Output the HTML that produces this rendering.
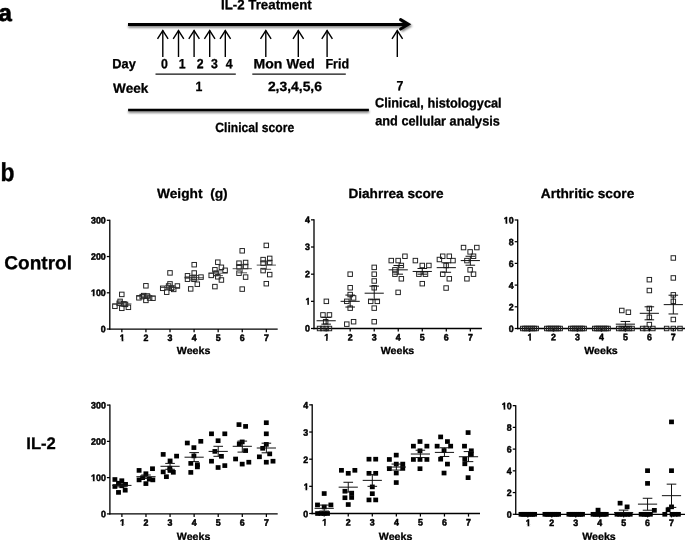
<!DOCTYPE html>
<html><head><meta charset="utf-8"><title>Figure</title>
<style>html,body{margin:0;padding:0;background:#fff;}body{width:685px;height:540px;overflow:hidden;}svg{display:block;}text{font-family:'Liberation Sans', sans-serif;text-rendering:geometricPrecision;}</style>
</head><body>
<svg width="685" height="540" viewBox="0 0 685 540" style="opacity:0.999">
<defs><filter id="blur" x="-5%" y="-200%" width="110%" height="500%"><feGaussianBlur stdDeviation="1.3"/></filter></defs>
<rect x="0" y="0" width="685" height="540" fill="#fff"/>
<text transform="rotate(0.06 -1.40 21.00)" x="-1.40" y="21.00" font-size="24.0" font-weight="bold" text-anchor="start" fill="#000" stroke="#000" stroke-width="0.7" stroke-linejoin="round" xml:space="preserve">a</text>
<text transform="rotate(0.06 0.60 181.00)" x="0.60" y="181.00" font-size="25.8" font-weight="bold" text-anchor="start" fill="#000" textLength="14.00" lengthAdjust="spacingAndGlyphs" stroke="#000" stroke-width="0.4" stroke-linejoin="round" xml:space="preserve">b</text>
<text transform="rotate(0.06 221.00 9.20)" x="221.00" y="9.20" font-size="13.6" font-weight="bold" text-anchor="start" fill="#000" textLength="90.80" lengthAdjust="spacingAndGlyphs" stroke="#000" stroke-width="0.3" stroke-linejoin="round" xml:space="preserve">IL-2 Treatment</text>
<g filter="url(#blur)" opacity="0.5">
<line x1="128.20" y1="26.30" x2="404.00" y2="26.30" stroke="#000" stroke-width="3.0" stroke-linecap="butt" />
<polyline points="401.5,21.4 409.5,26.0 401.5,30.6" fill="none" stroke="#000" stroke-width="3"/>
<line x1="128.30" y1="111.70" x2="369.20" y2="111.70" stroke="#000" stroke-width="2.4" stroke-linecap="butt" />
</g>
<line x1="128.00" y1="24.45" x2="407.00" y2="24.45" stroke="#000" stroke-width="3.1" stroke-linecap="butt" />
<polyline points="400.6,19.7 408.3,24.35 400.6,29.0" fill="none" stroke="#000" stroke-width="3.1" stroke-linejoin="miter" stroke-linecap="round"/>
<line x1="162.80" y1="30.60" x2="162.80" y2="57.00" stroke="#000" stroke-width="1.4" stroke-linecap="butt" />
<polyline points="157.50,38.8 162.80,30.5 168.10,38.8" fill="none" stroke="#000" stroke-width="1.4" stroke-linejoin="miter"/>
<line x1="178.50" y1="30.60" x2="178.50" y2="57.00" stroke="#000" stroke-width="1.4" stroke-linecap="butt" />
<polyline points="173.20,38.8 178.50,30.5 183.80,38.8" fill="none" stroke="#000" stroke-width="1.4" stroke-linejoin="miter"/>
<line x1="194.10" y1="30.60" x2="194.10" y2="57.00" stroke="#000" stroke-width="1.4" stroke-linecap="butt" />
<polyline points="188.80,38.8 194.10,30.5 199.40,38.8" fill="none" stroke="#000" stroke-width="1.4" stroke-linejoin="miter"/>
<line x1="209.70" y1="30.60" x2="209.70" y2="57.00" stroke="#000" stroke-width="1.4" stroke-linecap="butt" />
<polyline points="204.40,38.8 209.70,30.5 215.00,38.8" fill="none" stroke="#000" stroke-width="1.4" stroke-linejoin="miter"/>
<line x1="225.30" y1="30.60" x2="225.30" y2="57.00" stroke="#000" stroke-width="1.4" stroke-linecap="butt" />
<polyline points="220.00,38.8 225.30,30.5 230.60,38.8" fill="none" stroke="#000" stroke-width="1.4" stroke-linejoin="miter"/>
<line x1="265.80" y1="30.60" x2="265.80" y2="57.00" stroke="#000" stroke-width="1.4" stroke-linecap="butt" />
<polyline points="260.50,38.8 265.80,30.5 271.10,38.8" fill="none" stroke="#000" stroke-width="1.4" stroke-linejoin="miter"/>
<line x1="298.30" y1="30.60" x2="298.30" y2="57.00" stroke="#000" stroke-width="1.4" stroke-linecap="butt" />
<polyline points="293.00,38.8 298.30,30.5 303.60,38.8" fill="none" stroke="#000" stroke-width="1.4" stroke-linejoin="miter"/>
<line x1="327.10" y1="30.60" x2="327.10" y2="57.00" stroke="#000" stroke-width="1.4" stroke-linecap="butt" />
<polyline points="321.80,38.8 327.10,30.5 332.40,38.8" fill="none" stroke="#000" stroke-width="1.4" stroke-linejoin="miter"/>
<line x1="397.30" y1="30.60" x2="397.30" y2="57.00" stroke="#000" stroke-width="1.4" stroke-linecap="butt" />
<polyline points="392.00,38.8 397.30,30.5 402.60,38.8" fill="none" stroke="#000" stroke-width="1.4" stroke-linejoin="miter"/>
<text transform="rotate(0.06 112.35 68.30)" x="112.35" y="68.30" font-size="13.4" font-weight="bold" text-anchor="start" fill="#000" textLength="23.50" lengthAdjust="spacingAndGlyphs" stroke="#000" stroke-width="0.3" stroke-linejoin="round" xml:space="preserve">Day</text>
<text transform="rotate(0.06 164.30 68.25)" x="164.30" y="68.25" font-size="13.4" font-weight="bold" text-anchor="middle" fill="#000" textLength="6.85" lengthAdjust="spacingAndGlyphs" stroke="#000" stroke-width="0.3" stroke-linejoin="round" xml:space="preserve">0</text>
<text transform="rotate(0.06 182.10 68.25)" x="182.10" y="68.25" font-size="13.4" font-weight="bold" text-anchor="middle" fill="#000" textLength="6.85" lengthAdjust="spacingAndGlyphs" stroke="#000" stroke-width="0.3" stroke-linejoin="round" xml:space="preserve">1</text>
<text transform="rotate(0.06 200.10 68.25)" x="200.10" y="68.25" font-size="13.4" font-weight="bold" text-anchor="middle" fill="#000" textLength="6.85" lengthAdjust="spacingAndGlyphs" stroke="#000" stroke-width="0.3" stroke-linejoin="round" xml:space="preserve">2</text>
<text transform="rotate(0.06 214.50 68.25)" x="214.50" y="68.25" font-size="13.4" font-weight="bold" text-anchor="middle" fill="#000" textLength="6.85" lengthAdjust="spacingAndGlyphs" stroke="#000" stroke-width="0.3" stroke-linejoin="round" xml:space="preserve">3</text>
<text transform="rotate(0.06 229.20 68.25)" x="229.20" y="68.25" font-size="13.4" font-weight="bold" text-anchor="middle" fill="#000" textLength="6.85" lengthAdjust="spacingAndGlyphs" stroke="#000" stroke-width="0.3" stroke-linejoin="round" xml:space="preserve">4</text>
<text transform="rotate(0.06 253.55 68.25)" x="253.55" y="68.25" font-size="13.4" font-weight="bold" text-anchor="start" fill="#000" textLength="28.75" lengthAdjust="spacingAndGlyphs" stroke="#000" stroke-width="0.3" stroke-linejoin="round" xml:space="preserve">Mon</text>
<text transform="rotate(0.06 286.50 68.25)" x="286.50" y="68.25" font-size="13.4" font-weight="bold" text-anchor="start" fill="#000" textLength="28.30" lengthAdjust="spacingAndGlyphs" stroke="#000" stroke-width="0.3" stroke-linejoin="round" xml:space="preserve">Wed</text>
<text transform="rotate(0.06 325.45 68.25)" x="325.45" y="68.25" font-size="13.4" font-weight="bold" text-anchor="start" fill="#000" textLength="23.60" lengthAdjust="spacingAndGlyphs" stroke="#000" stroke-width="0.3" stroke-linejoin="round" xml:space="preserve">Frid</text>
<line x1="155.50" y1="74.10" x2="235.80" y2="74.10" stroke="#111" stroke-width="1.2" stroke-linecap="butt" />
<line x1="252.30" y1="74.10" x2="345.80" y2="74.10" stroke="#111" stroke-width="1.2" stroke-linecap="butt" />
<text transform="rotate(0.06 113.10 92.80)" x="113.10" y="92.80" font-size="13.4" font-weight="bold" text-anchor="start" fill="#000" textLength="35.15" lengthAdjust="spacingAndGlyphs" stroke="#000" stroke-width="0.3" stroke-linejoin="round" xml:space="preserve">Week</text>
<text transform="rotate(0.06 199.00 91.00)" x="199.00" y="91.00" font-size="13.4" font-weight="bold" text-anchor="middle" fill="#000" textLength="6.85" lengthAdjust="spacingAndGlyphs" stroke="#000" stroke-width="0.3" stroke-linejoin="round" xml:space="preserve">1</text>
<text transform="rotate(0.06 267.90 91.00)" x="267.90" y="91.00" font-size="13.4" font-weight="bold" text-anchor="start" fill="#000" textLength="54.05" lengthAdjust="spacingAndGlyphs" stroke="#000" stroke-width="0.3" stroke-linejoin="round" xml:space="preserve">2,3,4,5,6</text>
<text transform="rotate(0.06 399.90 90.35)" x="399.90" y="90.35" font-size="13.4" font-weight="bold" text-anchor="middle" fill="#000" textLength="6.85" lengthAdjust="spacingAndGlyphs" stroke="#000" stroke-width="0.3" stroke-linejoin="round" xml:space="preserve">7</text>
<line x1="128.10" y1="110.00" x2="368.90" y2="110.00" stroke="#000" stroke-width="2.6" stroke-linecap="butt" />
<text transform="rotate(0.06 215.30 132.00)" x="215.30" y="132.00" font-size="13.4" font-weight="bold" text-anchor="start" fill="#000" textLength="78.90" lengthAdjust="spacingAndGlyphs" stroke="#000" stroke-width="0.3" stroke-linejoin="round" xml:space="preserve">Clinical score</text>
<text transform="rotate(0.06 375.10 107.35)" x="375.10" y="107.35" font-size="13.4" font-weight="bold" text-anchor="start" fill="#000" textLength="126.50" lengthAdjust="spacingAndGlyphs" stroke="#000" stroke-width="0.3" stroke-linejoin="round" xml:space="preserve">Clinical, histologycal</text>
<text transform="rotate(0.06 375.25 125.35)" x="375.25" y="125.35" font-size="13.4" font-weight="bold" text-anchor="start" fill="#000" textLength="124.65" lengthAdjust="spacingAndGlyphs" stroke="#000" stroke-width="0.3" stroke-linejoin="round" xml:space="preserve">and cellular analysis</text>
<text transform="rotate(0.06 157.00 198.00)" x="157.00" y="198.00" font-size="13.4" font-weight="bold" text-anchor="start" fill="#000" textLength="70.70" lengthAdjust="spacingAndGlyphs" stroke="#000" stroke-width="0.3" stroke-linejoin="round" xml:space="preserve">Weight  (g)</text>
<text transform="rotate(0.06 348.45 198.00)" x="348.45" y="198.00" font-size="13.4" font-weight="bold" text-anchor="start" fill="#000" textLength="95.25" lengthAdjust="spacingAndGlyphs" stroke="#000" stroke-width="0.3" stroke-linejoin="round" xml:space="preserve">Diahrrea score</text>
<text transform="rotate(0.06 540.75 198.00)" x="540.75" y="198.00" font-size="13.4" font-weight="bold" text-anchor="start" fill="#000" textLength="93.50" lengthAdjust="spacingAndGlyphs" stroke="#000" stroke-width="0.3" stroke-linejoin="round" xml:space="preserve">Arthritic score</text>
<text transform="rotate(0.06 4.30 269.20)" x="4.30" y="269.20" font-size="18.95" font-weight="bold" text-anchor="start" fill="#000" textLength="67.70" lengthAdjust="spacingAndGlyphs" stroke="#000" stroke-width="0.3" stroke-linejoin="round" xml:space="preserve">Control</text>
<text transform="rotate(0.06 26.30 449.00)" x="26.30" y="449.00" font-size="16.8" font-weight="bold" text-anchor="start" fill="#000" textLength="29.55" lengthAdjust="spacingAndGlyphs" stroke="#000" stroke-width="0.3" stroke-linejoin="round" xml:space="preserve">IL-2</text>
<line x1="109.80" y1="219.80" x2="109.80" y2="329.71" stroke="#000" stroke-width="1.32" stroke-linecap="butt" />
<line x1="109.14" y1="329.05" x2="277.70" y2="329.05" stroke="#000" stroke-width="1.32" stroke-linecap="butt" />
<line x1="106.80" y1="329.05" x2="109.80" y2="329.05" stroke="#000" stroke-width="1.25" stroke-linecap="butt" />
<text transform="rotate(0.06 105.70 332.35)" x="105.70" y="332.35" font-size="9.3" font-weight="bold" text-anchor="end" fill="#000" textLength="4.90" lengthAdjust="spacingAndGlyphs" stroke="#000" stroke-width="0.5" stroke-linejoin="round" xml:space="preserve">0</text>
<line x1="106.80" y1="292.80" x2="109.80" y2="292.80" stroke="#000" stroke-width="1.25" stroke-linecap="butt" />
<text transform="rotate(0.06 105.70 296.10)" x="105.70" y="296.10" font-size="9.3" font-weight="bold" text-anchor="end" fill="#000" textLength="14.70" lengthAdjust="spacingAndGlyphs" stroke="#000" stroke-width="0.5" stroke-linejoin="round" xml:space="preserve">100</text>
<rect x="90.65" y="294.65" width="2.15" height="2.3" fill="#fff"/>
<rect x="94.50" y="294.65" width="2.0" height="2.3" fill="#fff"/>
<line x1="106.80" y1="256.55" x2="109.80" y2="256.55" stroke="#000" stroke-width="1.25" stroke-linecap="butt" />
<text transform="rotate(0.06 105.70 259.85)" x="105.70" y="259.85" font-size="9.3" font-weight="bold" text-anchor="end" fill="#000" textLength="14.70" lengthAdjust="spacingAndGlyphs" stroke="#000" stroke-width="0.5" stroke-linejoin="round" xml:space="preserve">200</text>
<line x1="106.80" y1="220.30" x2="109.80" y2="220.30" stroke="#000" stroke-width="1.25" stroke-linecap="butt" />
<text transform="rotate(0.06 105.70 223.60)" x="105.70" y="223.60" font-size="9.3" font-weight="bold" text-anchor="end" fill="#000" textLength="14.70" lengthAdjust="spacingAndGlyphs" stroke="#000" stroke-width="0.5" stroke-linejoin="round" xml:space="preserve">300</text>
<line x1="121.85" y1="329.05" x2="121.85" y2="332.15" stroke="#000" stroke-width="1.25" stroke-linecap="butt" />
<text transform="rotate(0.06 122.30 341.00)" x="122.30" y="341.00" font-size="9.3" font-weight="bold" text-anchor="middle" fill="#000" textLength="4.90" lengthAdjust="spacingAndGlyphs" stroke="#000" stroke-width="0.5" stroke-linejoin="round" xml:space="preserve">1</text>
<rect x="119.50" y="339.55" width="2.15" height="2.3" fill="#fff"/>
<rect x="123.35" y="339.55" width="2.0" height="2.3" fill="#fff"/>
<line x1="145.93" y1="329.05" x2="145.93" y2="332.15" stroke="#000" stroke-width="1.25" stroke-linecap="butt" />
<text transform="rotate(0.06 145.93 341.00)" x="145.93" y="341.00" font-size="9.3" font-weight="bold" text-anchor="middle" fill="#000" textLength="4.90" lengthAdjust="spacingAndGlyphs" stroke="#000" stroke-width="0.5" stroke-linejoin="round" xml:space="preserve">2</text>
<line x1="170.01" y1="329.05" x2="170.01" y2="332.15" stroke="#000" stroke-width="1.25" stroke-linecap="butt" />
<text transform="rotate(0.06 170.01 341.00)" x="170.01" y="341.00" font-size="9.3" font-weight="bold" text-anchor="middle" fill="#000" textLength="4.90" lengthAdjust="spacingAndGlyphs" stroke="#000" stroke-width="0.5" stroke-linejoin="round" xml:space="preserve">3</text>
<line x1="194.09" y1="329.05" x2="194.09" y2="332.15" stroke="#000" stroke-width="1.25" stroke-linecap="butt" />
<text transform="rotate(0.06 194.09 341.00)" x="194.09" y="341.00" font-size="9.3" font-weight="bold" text-anchor="middle" fill="#000" textLength="4.90" lengthAdjust="spacingAndGlyphs" stroke="#000" stroke-width="0.5" stroke-linejoin="round" xml:space="preserve">4</text>
<line x1="218.17" y1="329.05" x2="218.17" y2="332.15" stroke="#000" stroke-width="1.25" stroke-linecap="butt" />
<text transform="rotate(0.06 218.17 341.00)" x="218.17" y="341.00" font-size="9.3" font-weight="bold" text-anchor="middle" fill="#000" textLength="4.90" lengthAdjust="spacingAndGlyphs" stroke="#000" stroke-width="0.5" stroke-linejoin="round" xml:space="preserve">5</text>
<line x1="242.25" y1="329.05" x2="242.25" y2="332.15" stroke="#000" stroke-width="1.25" stroke-linecap="butt" />
<text transform="rotate(0.06 242.25 341.00)" x="242.25" y="341.00" font-size="9.3" font-weight="bold" text-anchor="middle" fill="#000" textLength="4.90" lengthAdjust="spacingAndGlyphs" stroke="#000" stroke-width="0.5" stroke-linejoin="round" xml:space="preserve">6</text>
<line x1="266.33" y1="329.05" x2="266.33" y2="332.15" stroke="#000" stroke-width="1.25" stroke-linecap="butt" />
<text transform="rotate(0.06 266.33 341.00)" x="266.33" y="341.00" font-size="9.3" font-weight="bold" text-anchor="middle" fill="#000" textLength="4.90" lengthAdjust="spacingAndGlyphs" stroke="#000" stroke-width="0.5" stroke-linejoin="round" xml:space="preserve">7</text>
<text transform="rotate(0.06 193.60 354.10)" x="193.60" y="354.10" font-size="10.3" font-weight="bold" text-anchor="middle" fill="#000" textLength="33.50" lengthAdjust="spacingAndGlyphs" stroke="#000" stroke-width="0.3" stroke-linejoin="round" xml:space="preserve">Weeks</text>
<rect x="119.56" y="292.16" width="4.48" height="4.48" fill="none" stroke="#202020" stroke-width="0.97"/>
<rect x="117.86" y="299.16" width="4.48" height="4.48" fill="none" stroke="#202020" stroke-width="0.97"/>
<rect x="116.96" y="301.06" width="4.48" height="4.48" fill="none" stroke="#202020" stroke-width="0.97"/>
<rect x="121.76" y="301.66" width="4.48" height="4.48" fill="none" stroke="#202020" stroke-width="0.97"/>
<rect x="123.26" y="302.16" width="4.48" height="4.48" fill="none" stroke="#202020" stroke-width="0.97"/>
<rect x="112.66" y="304.06" width="4.48" height="4.48" fill="none" stroke="#202020" stroke-width="0.97"/>
<rect x="119.56" y="306.06" width="4.48" height="4.48" fill="none" stroke="#202020" stroke-width="0.97"/>
<rect x="126.16" y="305.06" width="4.48" height="4.48" fill="none" stroke="#202020" stroke-width="0.97"/>
<line x1="112.25" y1="303.90" x2="131.45" y2="303.90" stroke="#333" stroke-width="0.85" stroke-linecap="butt" />
<line x1="117.05" y1="302.50" x2="126.65" y2="302.50" stroke="#333" stroke-width="0.85" stroke-linecap="butt" />
<line x1="117.05" y1="305.30" x2="126.65" y2="305.30" stroke="#333" stroke-width="0.85" stroke-linecap="butt" />
<line x1="121.85" y1="302.50" x2="121.85" y2="305.30" stroke="#333" stroke-width="0.85" stroke-linecap="butt" />
<rect x="143.66" y="283.56" width="4.48" height="4.48" fill="none" stroke="#202020" stroke-width="0.97"/>
<rect x="141.46" y="293.36" width="4.48" height="4.48" fill="none" stroke="#202020" stroke-width="0.97"/>
<rect x="145.16" y="293.76" width="4.48" height="4.48" fill="none" stroke="#202020" stroke-width="0.97"/>
<rect x="136.66" y="295.56" width="4.48" height="4.48" fill="none" stroke="#202020" stroke-width="0.97"/>
<rect x="147.36" y="295.76" width="4.48" height="4.48" fill="none" stroke="#202020" stroke-width="0.97"/>
<rect x="150.76" y="295.96" width="4.48" height="4.48" fill="none" stroke="#202020" stroke-width="0.97"/>
<rect x="143.66" y="298.16" width="4.48" height="4.48" fill="none" stroke="#202020" stroke-width="0.97"/>
<rect x="139.96" y="294.36" width="4.48" height="4.48" fill="none" stroke="#202020" stroke-width="0.97"/>
<line x1="136.33" y1="296.30" x2="155.53" y2="296.30" stroke="#333" stroke-width="0.85" stroke-linecap="butt" />
<line x1="141.13" y1="294.90" x2="150.73" y2="294.90" stroke="#333" stroke-width="0.85" stroke-linecap="butt" />
<line x1="141.13" y1="297.70" x2="150.73" y2="297.70" stroke="#333" stroke-width="0.85" stroke-linecap="butt" />
<line x1="145.93" y1="294.90" x2="145.93" y2="297.70" stroke="#333" stroke-width="0.85" stroke-linecap="butt" />
<rect x="167.76" y="270.66" width="4.48" height="4.48" fill="none" stroke="#202020" stroke-width="0.97"/>
<rect x="167.76" y="281.66" width="4.48" height="4.48" fill="none" stroke="#202020" stroke-width="0.97"/>
<rect x="166.36" y="283.76" width="4.48" height="4.48" fill="none" stroke="#202020" stroke-width="0.97"/>
<rect x="160.46" y="286.06" width="4.48" height="4.48" fill="none" stroke="#202020" stroke-width="0.97"/>
<rect x="169.26" y="286.06" width="4.48" height="4.48" fill="none" stroke="#202020" stroke-width="0.97"/>
<rect x="175.16" y="283.76" width="4.48" height="4.48" fill="none" stroke="#202020" stroke-width="0.97"/>
<rect x="171.46" y="287.16" width="4.48" height="4.48" fill="none" stroke="#202020" stroke-width="0.97"/>
<rect x="164.46" y="289.96" width="4.48" height="4.48" fill="none" stroke="#202020" stroke-width="0.97"/>
<line x1="160.41" y1="287.50" x2="179.61" y2="287.50" stroke="#333" stroke-width="0.85" stroke-linecap="butt" />
<line x1="165.21" y1="285.60" x2="174.81" y2="285.60" stroke="#333" stroke-width="0.85" stroke-linecap="butt" />
<line x1="165.21" y1="289.40" x2="174.81" y2="289.40" stroke="#333" stroke-width="0.85" stroke-linecap="butt" />
<line x1="170.01" y1="285.60" x2="170.01" y2="289.40" stroke="#333" stroke-width="0.85" stroke-linecap="butt" />
<rect x="191.96" y="262.46" width="4.48" height="4.48" fill="none" stroke="#202020" stroke-width="0.97"/>
<rect x="191.96" y="270.76" width="4.48" height="4.48" fill="none" stroke="#202020" stroke-width="0.97"/>
<rect x="185.26" y="273.56" width="4.48" height="4.48" fill="none" stroke="#202020" stroke-width="0.97"/>
<rect x="185.26" y="276.96" width="4.48" height="4.48" fill="none" stroke="#202020" stroke-width="0.97"/>
<rect x="191.96" y="275.26" width="4.48" height="4.48" fill="none" stroke="#202020" stroke-width="0.97"/>
<rect x="198.76" y="274.86" width="4.48" height="4.48" fill="none" stroke="#202020" stroke-width="0.97"/>
<rect x="191.76" y="277.06" width="4.48" height="4.48" fill="none" stroke="#202020" stroke-width="0.97"/>
<rect x="195.06" y="281.96" width="4.48" height="4.48" fill="none" stroke="#202020" stroke-width="0.97"/>
<rect x="188.46" y="286.66" width="4.48" height="4.48" fill="none" stroke="#202020" stroke-width="0.97"/>
<line x1="184.49" y1="277.70" x2="203.69" y2="277.70" stroke="#333" stroke-width="0.85" stroke-linecap="butt" />
<line x1="189.29" y1="275.50" x2="198.89" y2="275.50" stroke="#333" stroke-width="0.85" stroke-linecap="butt" />
<line x1="189.29" y1="279.90" x2="198.89" y2="279.90" stroke="#333" stroke-width="0.85" stroke-linecap="butt" />
<line x1="194.09" y1="275.50" x2="194.09" y2="279.90" stroke="#333" stroke-width="0.85" stroke-linecap="butt" />
<rect x="215.56" y="259.96" width="4.48" height="4.48" fill="none" stroke="#202020" stroke-width="0.97"/>
<rect x="219.16" y="265.06" width="4.48" height="4.48" fill="none" stroke="#202020" stroke-width="0.97"/>
<rect x="222.86" y="268.06" width="4.48" height="4.48" fill="none" stroke="#202020" stroke-width="0.97"/>
<rect x="212.66" y="267.56" width="4.48" height="4.48" fill="none" stroke="#202020" stroke-width="0.97"/>
<rect x="213.76" y="271.26" width="4.48" height="4.48" fill="none" stroke="#202020" stroke-width="0.97"/>
<rect x="208.96" y="273.16" width="4.48" height="4.48" fill="none" stroke="#202020" stroke-width="0.97"/>
<rect x="215.56" y="274.56" width="4.48" height="4.48" fill="none" stroke="#202020" stroke-width="0.97"/>
<rect x="219.16" y="277.76" width="4.48" height="4.48" fill="none" stroke="#202020" stroke-width="0.97"/>
<rect x="212.66" y="284.36" width="4.48" height="4.48" fill="none" stroke="#202020" stroke-width="0.97"/>
<line x1="208.57" y1="273.20" x2="227.77" y2="273.20" stroke="#333" stroke-width="0.85" stroke-linecap="butt" />
<line x1="213.37" y1="270.80" x2="222.97" y2="270.80" stroke="#333" stroke-width="0.85" stroke-linecap="butt" />
<line x1="213.37" y1="275.60" x2="222.97" y2="275.60" stroke="#333" stroke-width="0.85" stroke-linecap="butt" />
<line x1="218.17" y1="270.80" x2="218.17" y2="275.60" stroke="#333" stroke-width="0.85" stroke-linecap="butt" />
<rect x="239.96" y="248.56" width="4.48" height="4.48" fill="none" stroke="#202020" stroke-width="0.97"/>
<rect x="236.76" y="260.96" width="4.48" height="4.48" fill="none" stroke="#202020" stroke-width="0.97"/>
<rect x="243.36" y="260.26" width="4.48" height="4.48" fill="none" stroke="#202020" stroke-width="0.97"/>
<rect x="236.76" y="264.66" width="4.48" height="4.48" fill="none" stroke="#202020" stroke-width="0.97"/>
<rect x="243.36" y="264.26" width="4.48" height="4.48" fill="none" stroke="#202020" stroke-width="0.97"/>
<rect x="236.76" y="270.96" width="4.48" height="4.48" fill="none" stroke="#202020" stroke-width="0.97"/>
<rect x="243.36" y="274.86" width="4.48" height="4.48" fill="none" stroke="#202020" stroke-width="0.97"/>
<rect x="239.96" y="286.86" width="4.48" height="4.48" fill="none" stroke="#202020" stroke-width="0.97"/>
<line x1="232.65" y1="268.70" x2="251.85" y2="268.70" stroke="#333" stroke-width="0.85" stroke-linecap="butt" />
<line x1="237.45" y1="264.60" x2="247.05" y2="264.60" stroke="#333" stroke-width="0.85" stroke-linecap="butt" />
<line x1="237.45" y1="272.80" x2="247.05" y2="272.80" stroke="#333" stroke-width="0.85" stroke-linecap="butt" />
<line x1="242.25" y1="264.60" x2="242.25" y2="272.80" stroke="#333" stroke-width="0.85" stroke-linecap="butt" />
<rect x="264.06" y="243.16" width="4.48" height="4.48" fill="none" stroke="#202020" stroke-width="0.97"/>
<rect x="267.46" y="256.16" width="4.48" height="4.48" fill="none" stroke="#202020" stroke-width="0.97"/>
<rect x="260.86" y="257.36" width="4.48" height="4.48" fill="none" stroke="#202020" stroke-width="0.97"/>
<rect x="260.86" y="260.96" width="4.48" height="4.48" fill="none" stroke="#202020" stroke-width="0.97"/>
<rect x="267.46" y="260.26" width="4.48" height="4.48" fill="none" stroke="#202020" stroke-width="0.97"/>
<rect x="260.86" y="268.36" width="4.48" height="4.48" fill="none" stroke="#202020" stroke-width="0.97"/>
<rect x="267.46" y="272.36" width="4.48" height="4.48" fill="none" stroke="#202020" stroke-width="0.97"/>
<rect x="264.06" y="281.46" width="4.48" height="4.48" fill="none" stroke="#202020" stroke-width="0.97"/>
<line x1="256.73" y1="265.10" x2="275.93" y2="265.10" stroke="#333" stroke-width="0.85" stroke-linecap="butt" />
<line x1="261.53" y1="261.00" x2="271.13" y2="261.00" stroke="#333" stroke-width="0.85" stroke-linecap="butt" />
<line x1="261.53" y1="269.30" x2="271.13" y2="269.30" stroke="#333" stroke-width="0.85" stroke-linecap="butt" />
<line x1="266.33" y1="261.00" x2="266.33" y2="269.30" stroke="#333" stroke-width="0.85" stroke-linecap="butt" />
<line x1="314.00" y1="219.35" x2="314.00" y2="329.16" stroke="#000" stroke-width="1.32" stroke-linecap="butt" />
<line x1="313.34" y1="328.50" x2="481.90" y2="328.50" stroke="#000" stroke-width="1.32" stroke-linecap="butt" />
<line x1="311.00" y1="328.50" x2="314.00" y2="328.50" stroke="#000" stroke-width="1.25" stroke-linecap="butt" />
<text transform="rotate(0.06 309.90 331.63)" x="309.90" y="331.63" font-size="9.3" font-weight="bold" text-anchor="end" fill="#000" textLength="4.90" lengthAdjust="spacingAndGlyphs" stroke="#000" stroke-width="0.5" stroke-linejoin="round" xml:space="preserve">0</text>
<line x1="311.00" y1="301.34" x2="314.00" y2="301.34" stroke="#000" stroke-width="1.25" stroke-linecap="butt" />
<text transform="rotate(0.06 310.40 304.47)" x="310.40" y="304.47" font-size="9.3" font-weight="bold" text-anchor="end" fill="#000" textLength="4.90" lengthAdjust="spacingAndGlyphs" stroke="#000" stroke-width="0.5" stroke-linejoin="round" xml:space="preserve">1</text>
<rect x="305.15" y="303.02" width="2.15" height="2.3" fill="#fff"/>
<rect x="309.00" y="303.02" width="2.0" height="2.3" fill="#fff"/>
<line x1="311.00" y1="274.18" x2="314.00" y2="274.18" stroke="#000" stroke-width="1.25" stroke-linecap="butt" />
<text transform="rotate(0.06 309.90 277.31)" x="309.90" y="277.31" font-size="9.3" font-weight="bold" text-anchor="end" fill="#000" textLength="4.90" lengthAdjust="spacingAndGlyphs" stroke="#000" stroke-width="0.5" stroke-linejoin="round" xml:space="preserve">2</text>
<line x1="311.00" y1="247.01" x2="314.00" y2="247.01" stroke="#000" stroke-width="1.25" stroke-linecap="butt" />
<text transform="rotate(0.06 309.90 250.14)" x="309.90" y="250.14" font-size="9.3" font-weight="bold" text-anchor="end" fill="#000" textLength="4.90" lengthAdjust="spacingAndGlyphs" stroke="#000" stroke-width="0.5" stroke-linejoin="round" xml:space="preserve">3</text>
<line x1="311.00" y1="219.85" x2="314.00" y2="219.85" stroke="#000" stroke-width="1.25" stroke-linecap="butt" />
<text transform="rotate(0.06 309.90 222.98)" x="309.90" y="222.98" font-size="9.3" font-weight="bold" text-anchor="end" fill="#000" textLength="4.90" lengthAdjust="spacingAndGlyphs" stroke="#000" stroke-width="0.5" stroke-linejoin="round" xml:space="preserve">4</text>
<line x1="326.15" y1="328.50" x2="326.15" y2="331.60" stroke="#000" stroke-width="1.25" stroke-linecap="butt" />
<text transform="rotate(0.06 326.60 340.40)" x="326.60" y="340.40" font-size="9.3" font-weight="bold" text-anchor="middle" fill="#000" textLength="4.90" lengthAdjust="spacingAndGlyphs" stroke="#000" stroke-width="0.5" stroke-linejoin="round" xml:space="preserve">1</text>
<rect x="323.80" y="338.95" width="2.15" height="2.3" fill="#fff"/>
<rect x="327.65" y="338.95" width="2.0" height="2.3" fill="#fff"/>
<line x1="350.18" y1="328.50" x2="350.18" y2="331.60" stroke="#000" stroke-width="1.25" stroke-linecap="butt" />
<text transform="rotate(0.06 350.18 340.40)" x="350.18" y="340.40" font-size="9.3" font-weight="bold" text-anchor="middle" fill="#000" textLength="4.90" lengthAdjust="spacingAndGlyphs" stroke="#000" stroke-width="0.5" stroke-linejoin="round" xml:space="preserve">2</text>
<line x1="374.21" y1="328.50" x2="374.21" y2="331.60" stroke="#000" stroke-width="1.25" stroke-linecap="butt" />
<text transform="rotate(0.06 374.21 340.40)" x="374.21" y="340.40" font-size="9.3" font-weight="bold" text-anchor="middle" fill="#000" textLength="4.90" lengthAdjust="spacingAndGlyphs" stroke="#000" stroke-width="0.5" stroke-linejoin="round" xml:space="preserve">3</text>
<line x1="398.24" y1="328.50" x2="398.24" y2="331.60" stroke="#000" stroke-width="1.25" stroke-linecap="butt" />
<text transform="rotate(0.06 398.24 340.40)" x="398.24" y="340.40" font-size="9.3" font-weight="bold" text-anchor="middle" fill="#000" textLength="4.90" lengthAdjust="spacingAndGlyphs" stroke="#000" stroke-width="0.5" stroke-linejoin="round" xml:space="preserve">4</text>
<line x1="422.27" y1="328.50" x2="422.27" y2="331.60" stroke="#000" stroke-width="1.25" stroke-linecap="butt" />
<text transform="rotate(0.06 422.27 340.40)" x="422.27" y="340.40" font-size="9.3" font-weight="bold" text-anchor="middle" fill="#000" textLength="4.90" lengthAdjust="spacingAndGlyphs" stroke="#000" stroke-width="0.5" stroke-linejoin="round" xml:space="preserve">5</text>
<line x1="446.30" y1="328.50" x2="446.30" y2="331.60" stroke="#000" stroke-width="1.25" stroke-linecap="butt" />
<text transform="rotate(0.06 446.30 340.40)" x="446.30" y="340.40" font-size="9.3" font-weight="bold" text-anchor="middle" fill="#000" textLength="4.90" lengthAdjust="spacingAndGlyphs" stroke="#000" stroke-width="0.5" stroke-linejoin="round" xml:space="preserve">6</text>
<line x1="470.33" y1="328.50" x2="470.33" y2="331.60" stroke="#000" stroke-width="1.25" stroke-linecap="butt" />
<text transform="rotate(0.06 470.33 340.40)" x="470.33" y="340.40" font-size="9.3" font-weight="bold" text-anchor="middle" fill="#000" textLength="4.90" lengthAdjust="spacingAndGlyphs" stroke="#000" stroke-width="0.5" stroke-linejoin="round" xml:space="preserve">7</text>
<text transform="rotate(0.06 397.50 354.10)" x="397.50" y="354.10" font-size="10.3" font-weight="bold" text-anchor="middle" fill="#000" textLength="33.50" lengthAdjust="spacingAndGlyphs" stroke="#000" stroke-width="0.3" stroke-linejoin="round" xml:space="preserve">Weeks</text>
<rect x="324.11" y="299.10" width="4.48" height="4.48" fill="none" stroke="#202020" stroke-width="0.97"/>
<rect x="320.71" y="312.68" width="4.48" height="4.48" fill="none" stroke="#202020" stroke-width="0.97"/>
<rect x="327.21" y="312.68" width="4.48" height="4.48" fill="none" stroke="#202020" stroke-width="0.97"/>
<rect x="323.41" y="319.47" width="4.48" height="4.48" fill="none" stroke="#202020" stroke-width="0.97"/>
<rect x="317.31" y="326.26" width="4.48" height="4.48" fill="none" stroke="#202020" stroke-width="0.97"/>
<rect x="320.61" y="326.26" width="4.48" height="4.48" fill="none" stroke="#202020" stroke-width="0.97"/>
<rect x="323.91" y="326.26" width="4.48" height="4.48" fill="none" stroke="#202020" stroke-width="0.97"/>
<rect x="327.21" y="326.26" width="4.48" height="4.48" fill="none" stroke="#202020" stroke-width="0.97"/>
<line x1="316.55" y1="320.76" x2="335.75" y2="320.76" stroke="#111" stroke-width="1.0" stroke-linecap="butt" />
<line x1="321.35" y1="317.36" x2="330.95" y2="317.36" stroke="#111" stroke-width="1.0" stroke-linecap="butt" />
<line x1="321.35" y1="324.15" x2="330.95" y2="324.15" stroke="#111" stroke-width="1.0" stroke-linecap="butt" />
<line x1="326.15" y1="317.36" x2="326.15" y2="324.15" stroke="#111" stroke-width="1.0" stroke-linecap="butt" />
<rect x="347.94" y="271.94" width="4.48" height="4.48" fill="none" stroke="#202020" stroke-width="0.97"/>
<rect x="347.94" y="285.52" width="4.48" height="4.48" fill="none" stroke="#202020" stroke-width="0.97"/>
<rect x="347.94" y="292.31" width="4.48" height="4.48" fill="none" stroke="#202020" stroke-width="0.97"/>
<rect x="351.34" y="295.70" width="4.48" height="4.48" fill="none" stroke="#202020" stroke-width="0.97"/>
<rect x="344.54" y="299.10" width="4.48" height="4.48" fill="none" stroke="#202020" stroke-width="0.97"/>
<rect x="347.94" y="305.89" width="4.48" height="4.48" fill="none" stroke="#202020" stroke-width="0.97"/>
<rect x="351.34" y="319.47" width="4.48" height="4.48" fill="none" stroke="#202020" stroke-width="0.97"/>
<rect x="344.54" y="321.91" width="4.48" height="4.48" fill="none" stroke="#202020" stroke-width="0.97"/>
<line x1="340.58" y1="301.34" x2="359.78" y2="301.34" stroke="#111" stroke-width="1.0" stroke-linecap="butt" />
<line x1="345.38" y1="295.09" x2="354.98" y2="295.09" stroke="#111" stroke-width="1.0" stroke-linecap="butt" />
<line x1="345.38" y1="307.04" x2="354.98" y2="307.04" stroke="#111" stroke-width="1.0" stroke-linecap="butt" />
<line x1="350.18" y1="295.09" x2="350.18" y2="307.04" stroke="#111" stroke-width="1.0" stroke-linecap="butt" />
<rect x="371.97" y="265.14" width="4.48" height="4.48" fill="none" stroke="#202020" stroke-width="0.97"/>
<rect x="371.97" y="271.94" width="4.48" height="4.48" fill="none" stroke="#202020" stroke-width="0.97"/>
<rect x="371.97" y="278.73" width="4.48" height="4.48" fill="none" stroke="#202020" stroke-width="0.97"/>
<rect x="371.97" y="285.52" width="4.48" height="4.48" fill="none" stroke="#202020" stroke-width="0.97"/>
<rect x="368.47" y="299.10" width="4.48" height="4.48" fill="none" stroke="#202020" stroke-width="0.97"/>
<rect x="375.07" y="299.10" width="4.48" height="4.48" fill="none" stroke="#202020" stroke-width="0.97"/>
<rect x="371.97" y="305.89" width="4.48" height="4.48" fill="none" stroke="#202020" stroke-width="0.97"/>
<rect x="371.97" y="319.47" width="4.48" height="4.48" fill="none" stroke="#202020" stroke-width="0.97"/>
<line x1="364.61" y1="293.19" x2="383.81" y2="293.19" stroke="#111" stroke-width="1.0" stroke-linecap="butt" />
<line x1="369.41" y1="286.13" x2="379.01" y2="286.13" stroke="#111" stroke-width="1.0" stroke-linecap="butt" />
<line x1="369.41" y1="299.71" x2="379.01" y2="299.71" stroke="#111" stroke-width="1.0" stroke-linecap="butt" />
<line x1="374.21" y1="286.13" x2="374.21" y2="299.71" stroke="#111" stroke-width="1.0" stroke-linecap="butt" />
<rect x="389.00" y="258.35" width="4.48" height="4.48" fill="none" stroke="#202020" stroke-width="0.97"/>
<rect x="395.90" y="258.35" width="4.48" height="4.48" fill="none" stroke="#202020" stroke-width="0.97"/>
<rect x="402.70" y="254.01" width="4.48" height="4.48" fill="none" stroke="#202020" stroke-width="0.97"/>
<rect x="399.10" y="263.24" width="4.48" height="4.48" fill="none" stroke="#202020" stroke-width="0.97"/>
<rect x="392.70" y="267.59" width="4.48" height="4.48" fill="none" stroke="#202020" stroke-width="0.97"/>
<rect x="392.70" y="271.94" width="4.48" height="4.48" fill="none" stroke="#202020" stroke-width="0.97"/>
<rect x="399.10" y="276.55" width="4.48" height="4.48" fill="none" stroke="#202020" stroke-width="0.97"/>
<rect x="395.90" y="290.13" width="4.48" height="4.48" fill="none" stroke="#202020" stroke-width="0.97"/>
<line x1="388.64" y1="269.83" x2="407.84" y2="269.83" stroke="#111" stroke-width="1.0" stroke-linecap="butt" />
<line x1="393.44" y1="265.48" x2="403.04" y2="265.48" stroke="#111" stroke-width="1.0" stroke-linecap="butt" />
<line x1="393.44" y1="274.18" x2="403.04" y2="274.18" stroke="#111" stroke-width="1.0" stroke-linecap="butt" />
<line x1="398.24" y1="265.48" x2="398.24" y2="274.18" stroke="#111" stroke-width="1.0" stroke-linecap="butt" />
<rect x="413.13" y="258.35" width="4.48" height="4.48" fill="none" stroke="#202020" stroke-width="0.97"/>
<rect x="420.03" y="263.24" width="4.48" height="4.48" fill="none" stroke="#202020" stroke-width="0.97"/>
<rect x="426.63" y="263.24" width="4.48" height="4.48" fill="none" stroke="#202020" stroke-width="0.97"/>
<rect x="416.63" y="271.94" width="4.48" height="4.48" fill="none" stroke="#202020" stroke-width="0.97"/>
<rect x="423.23" y="271.94" width="4.48" height="4.48" fill="none" stroke="#202020" stroke-width="0.97"/>
<rect x="420.03" y="281.44" width="4.48" height="4.48" fill="none" stroke="#202020" stroke-width="0.97"/>
<line x1="412.67" y1="271.46" x2="431.87" y2="271.46" stroke="#111" stroke-width="1.0" stroke-linecap="butt" />
<line x1="417.47" y1="268.47" x2="427.07" y2="268.47" stroke="#111" stroke-width="1.0" stroke-linecap="butt" />
<line x1="417.47" y1="274.18" x2="427.07" y2="274.18" stroke="#111" stroke-width="1.0" stroke-linecap="butt" />
<line x1="422.27" y1="268.47" x2="422.27" y2="274.18" stroke="#111" stroke-width="1.0" stroke-linecap="butt" />
<rect x="440.46" y="254.01" width="4.48" height="4.48" fill="none" stroke="#202020" stroke-width="0.97"/>
<rect x="447.06" y="254.01" width="4.48" height="4.48" fill="none" stroke="#202020" stroke-width="0.97"/>
<rect x="437.16" y="257.27" width="4.48" height="4.48" fill="none" stroke="#202020" stroke-width="0.97"/>
<rect x="450.76" y="258.35" width="4.48" height="4.48" fill="none" stroke="#202020" stroke-width="0.97"/>
<rect x="443.86" y="263.24" width="4.48" height="4.48" fill="none" stroke="#202020" stroke-width="0.97"/>
<rect x="440.46" y="271.94" width="4.48" height="4.48" fill="none" stroke="#202020" stroke-width="0.97"/>
<rect x="447.06" y="276.55" width="4.48" height="4.48" fill="none" stroke="#202020" stroke-width="0.97"/>
<rect x="443.86" y="285.79" width="4.48" height="4.48" fill="none" stroke="#202020" stroke-width="0.97"/>
<line x1="436.70" y1="267.66" x2="455.90" y2="267.66" stroke="#111" stroke-width="1.0" stroke-linecap="butt" />
<line x1="441.50" y1="262.77" x2="451.10" y2="262.77" stroke="#111" stroke-width="1.0" stroke-linecap="butt" />
<line x1="441.50" y1="272.27" x2="451.10" y2="272.27" stroke="#111" stroke-width="1.0" stroke-linecap="butt" />
<line x1="446.30" y1="262.77" x2="446.30" y2="272.27" stroke="#111" stroke-width="1.0" stroke-linecap="butt" />
<rect x="461.29" y="245.32" width="4.48" height="4.48" fill="none" stroke="#202020" stroke-width="0.97"/>
<rect x="474.59" y="245.32" width="4.48" height="4.48" fill="none" stroke="#202020" stroke-width="0.97"/>
<rect x="467.89" y="249.66" width="4.48" height="4.48" fill="none" stroke="#202020" stroke-width="0.97"/>
<rect x="471.29" y="254.01" width="4.48" height="4.48" fill="none" stroke="#202020" stroke-width="0.97"/>
<rect x="464.69" y="258.35" width="4.48" height="4.48" fill="none" stroke="#202020" stroke-width="0.97"/>
<rect x="467.89" y="267.59" width="4.48" height="4.48" fill="none" stroke="#202020" stroke-width="0.97"/>
<rect x="471.29" y="271.94" width="4.48" height="4.48" fill="none" stroke="#202020" stroke-width="0.97"/>
<rect x="464.69" y="276.55" width="4.48" height="4.48" fill="none" stroke="#202020" stroke-width="0.97"/>
<line x1="460.73" y1="260.59" x2="479.93" y2="260.59" stroke="#111" stroke-width="1.0" stroke-linecap="butt" />
<line x1="465.53" y1="256.25" x2="475.13" y2="256.25" stroke="#111" stroke-width="1.0" stroke-linecap="butt" />
<line x1="465.53" y1="265.21" x2="475.13" y2="265.21" stroke="#111" stroke-width="1.0" stroke-linecap="butt" />
<line x1="470.33" y1="256.25" x2="470.33" y2="265.21" stroke="#111" stroke-width="1.0" stroke-linecap="butt" />
<line x1="517.70" y1="219.50" x2="517.70" y2="329.16" stroke="#000" stroke-width="1.32" stroke-linecap="butt" />
<line x1="517.04" y1="328.50" x2="686.00" y2="328.50" stroke="#000" stroke-width="1.32" stroke-linecap="butt" />
<line x1="514.70" y1="328.50" x2="517.70" y2="328.50" stroke="#000" stroke-width="1.25" stroke-linecap="butt" />
<text transform="rotate(0.06 513.60 332.05)" x="513.60" y="332.05" font-size="9.3" font-weight="bold" text-anchor="end" fill="#000" textLength="4.90" lengthAdjust="spacingAndGlyphs" stroke="#000" stroke-width="0.5" stroke-linejoin="round" xml:space="preserve">0</text>
<line x1="514.70" y1="306.80" x2="517.70" y2="306.80" stroke="#000" stroke-width="1.25" stroke-linecap="butt" />
<text transform="rotate(0.06 513.60 310.35)" x="513.60" y="310.35" font-size="9.3" font-weight="bold" text-anchor="end" fill="#000" textLength="4.90" lengthAdjust="spacingAndGlyphs" stroke="#000" stroke-width="0.5" stroke-linejoin="round" xml:space="preserve">2</text>
<line x1="514.70" y1="285.10" x2="517.70" y2="285.10" stroke="#000" stroke-width="1.25" stroke-linecap="butt" />
<text transform="rotate(0.06 513.60 288.65)" x="513.60" y="288.65" font-size="9.3" font-weight="bold" text-anchor="end" fill="#000" textLength="4.90" lengthAdjust="spacingAndGlyphs" stroke="#000" stroke-width="0.5" stroke-linejoin="round" xml:space="preserve">4</text>
<line x1="514.70" y1="263.40" x2="517.70" y2="263.40" stroke="#000" stroke-width="1.25" stroke-linecap="butt" />
<text transform="rotate(0.06 513.60 266.95)" x="513.60" y="266.95" font-size="9.3" font-weight="bold" text-anchor="end" fill="#000" textLength="4.90" lengthAdjust="spacingAndGlyphs" stroke="#000" stroke-width="0.5" stroke-linejoin="round" xml:space="preserve">6</text>
<line x1="514.70" y1="241.70" x2="517.70" y2="241.70" stroke="#000" stroke-width="1.25" stroke-linecap="butt" />
<text transform="rotate(0.06 513.60 245.25)" x="513.60" y="245.25" font-size="9.3" font-weight="bold" text-anchor="end" fill="#000" textLength="4.90" lengthAdjust="spacingAndGlyphs" stroke="#000" stroke-width="0.5" stroke-linejoin="round" xml:space="preserve">8</text>
<line x1="514.70" y1="220.00" x2="517.70" y2="220.00" stroke="#000" stroke-width="1.25" stroke-linecap="butt" />
<text transform="rotate(0.06 513.60 223.55)" x="513.60" y="223.55" font-size="9.3" font-weight="bold" text-anchor="end" fill="#000" textLength="9.80" lengthAdjust="spacingAndGlyphs" stroke="#000" stroke-width="0.5" stroke-linejoin="round" xml:space="preserve">10</text>
<rect x="503.45" y="222.10" width="2.15" height="2.3" fill="#fff"/>
<rect x="507.30" y="222.10" width="2.0" height="2.3" fill="#fff"/>
<line x1="529.50" y1="328.50" x2="529.50" y2="331.60" stroke="#000" stroke-width="1.25" stroke-linecap="butt" />
<text transform="rotate(0.06 529.95 340.30)" x="529.95" y="340.30" font-size="9.3" font-weight="bold" text-anchor="middle" fill="#000" textLength="4.90" lengthAdjust="spacingAndGlyphs" stroke="#000" stroke-width="0.5" stroke-linejoin="round" xml:space="preserve">1</text>
<rect x="527.15" y="338.85" width="2.15" height="2.3" fill="#fff"/>
<rect x="531.00" y="338.85" width="2.0" height="2.3" fill="#fff"/>
<line x1="553.47" y1="328.50" x2="553.47" y2="331.60" stroke="#000" stroke-width="1.25" stroke-linecap="butt" />
<text transform="rotate(0.06 553.47 340.30)" x="553.47" y="340.30" font-size="9.3" font-weight="bold" text-anchor="middle" fill="#000" textLength="4.90" lengthAdjust="spacingAndGlyphs" stroke="#000" stroke-width="0.5" stroke-linejoin="round" xml:space="preserve">2</text>
<line x1="577.44" y1="328.50" x2="577.44" y2="331.60" stroke="#000" stroke-width="1.25" stroke-linecap="butt" />
<text transform="rotate(0.06 577.44 340.30)" x="577.44" y="340.30" font-size="9.3" font-weight="bold" text-anchor="middle" fill="#000" textLength="4.90" lengthAdjust="spacingAndGlyphs" stroke="#000" stroke-width="0.5" stroke-linejoin="round" xml:space="preserve">3</text>
<line x1="601.41" y1="328.50" x2="601.41" y2="331.60" stroke="#000" stroke-width="1.25" stroke-linecap="butt" />
<text transform="rotate(0.06 601.41 340.30)" x="601.41" y="340.30" font-size="9.3" font-weight="bold" text-anchor="middle" fill="#000" textLength="4.90" lengthAdjust="spacingAndGlyphs" stroke="#000" stroke-width="0.5" stroke-linejoin="round" xml:space="preserve">4</text>
<line x1="625.38" y1="328.50" x2="625.38" y2="331.60" stroke="#000" stroke-width="1.25" stroke-linecap="butt" />
<text transform="rotate(0.06 625.38 340.30)" x="625.38" y="340.30" font-size="9.3" font-weight="bold" text-anchor="middle" fill="#000" textLength="4.90" lengthAdjust="spacingAndGlyphs" stroke="#000" stroke-width="0.5" stroke-linejoin="round" xml:space="preserve">5</text>
<line x1="649.35" y1="328.50" x2="649.35" y2="331.60" stroke="#000" stroke-width="1.25" stroke-linecap="butt" />
<text transform="rotate(0.06 649.35 340.30)" x="649.35" y="340.30" font-size="9.3" font-weight="bold" text-anchor="middle" fill="#000" textLength="4.90" lengthAdjust="spacingAndGlyphs" stroke="#000" stroke-width="0.5" stroke-linejoin="round" xml:space="preserve">6</text>
<line x1="673.32" y1="328.50" x2="673.32" y2="331.60" stroke="#000" stroke-width="1.25" stroke-linecap="butt" />
<text transform="rotate(0.06 673.32 340.30)" x="673.32" y="340.30" font-size="9.3" font-weight="bold" text-anchor="middle" fill="#000" textLength="4.90" lengthAdjust="spacingAndGlyphs" stroke="#000" stroke-width="0.5" stroke-linejoin="round" xml:space="preserve">7</text>
<text transform="rotate(0.06 601.00 354.10)" x="601.00" y="354.10" font-size="10.3" font-weight="bold" text-anchor="middle" fill="#000" textLength="33.50" lengthAdjust="spacingAndGlyphs" stroke="#000" stroke-width="0.3" stroke-linejoin="round" xml:space="preserve">Weeks</text>
<rect x="520.56" y="326.26" width="4.48" height="4.48" fill="none" stroke="#202020" stroke-width="0.97"/>
<rect x="522.47" y="326.26" width="4.48" height="4.48" fill="none" stroke="#202020" stroke-width="0.97"/>
<rect x="524.39" y="326.26" width="4.48" height="4.48" fill="none" stroke="#202020" stroke-width="0.97"/>
<rect x="526.30" y="326.26" width="4.48" height="4.48" fill="none" stroke="#202020" stroke-width="0.97"/>
<rect x="528.22" y="326.26" width="4.48" height="4.48" fill="none" stroke="#202020" stroke-width="0.97"/>
<rect x="530.13" y="326.26" width="4.48" height="4.48" fill="none" stroke="#202020" stroke-width="0.97"/>
<rect x="532.05" y="326.26" width="4.48" height="4.48" fill="none" stroke="#202020" stroke-width="0.97"/>
<rect x="533.96" y="326.26" width="4.48" height="4.48" fill="none" stroke="#202020" stroke-width="0.97"/>
<rect x="544.53" y="326.26" width="4.48" height="4.48" fill="none" stroke="#202020" stroke-width="0.97"/>
<rect x="546.44" y="326.26" width="4.48" height="4.48" fill="none" stroke="#202020" stroke-width="0.97"/>
<rect x="548.36" y="326.26" width="4.48" height="4.48" fill="none" stroke="#202020" stroke-width="0.97"/>
<rect x="550.27" y="326.26" width="4.48" height="4.48" fill="none" stroke="#202020" stroke-width="0.97"/>
<rect x="552.19" y="326.26" width="4.48" height="4.48" fill="none" stroke="#202020" stroke-width="0.97"/>
<rect x="554.10" y="326.26" width="4.48" height="4.48" fill="none" stroke="#202020" stroke-width="0.97"/>
<rect x="556.02" y="326.26" width="4.48" height="4.48" fill="none" stroke="#202020" stroke-width="0.97"/>
<rect x="557.93" y="326.26" width="4.48" height="4.48" fill="none" stroke="#202020" stroke-width="0.97"/>
<rect x="568.50" y="326.26" width="4.48" height="4.48" fill="none" stroke="#202020" stroke-width="0.97"/>
<rect x="570.41" y="326.26" width="4.48" height="4.48" fill="none" stroke="#202020" stroke-width="0.97"/>
<rect x="572.33" y="326.26" width="4.48" height="4.48" fill="none" stroke="#202020" stroke-width="0.97"/>
<rect x="574.24" y="326.26" width="4.48" height="4.48" fill="none" stroke="#202020" stroke-width="0.97"/>
<rect x="576.16" y="326.26" width="4.48" height="4.48" fill="none" stroke="#202020" stroke-width="0.97"/>
<rect x="578.07" y="326.26" width="4.48" height="4.48" fill="none" stroke="#202020" stroke-width="0.97"/>
<rect x="579.99" y="326.26" width="4.48" height="4.48" fill="none" stroke="#202020" stroke-width="0.97"/>
<rect x="581.90" y="326.26" width="4.48" height="4.48" fill="none" stroke="#202020" stroke-width="0.97"/>
<rect x="592.47" y="326.26" width="4.48" height="4.48" fill="none" stroke="#202020" stroke-width="0.97"/>
<rect x="594.38" y="326.26" width="4.48" height="4.48" fill="none" stroke="#202020" stroke-width="0.97"/>
<rect x="596.30" y="326.26" width="4.48" height="4.48" fill="none" stroke="#202020" stroke-width="0.97"/>
<rect x="598.21" y="326.26" width="4.48" height="4.48" fill="none" stroke="#202020" stroke-width="0.97"/>
<rect x="600.13" y="326.26" width="4.48" height="4.48" fill="none" stroke="#202020" stroke-width="0.97"/>
<rect x="602.04" y="326.26" width="4.48" height="4.48" fill="none" stroke="#202020" stroke-width="0.97"/>
<rect x="603.96" y="326.26" width="4.48" height="4.48" fill="none" stroke="#202020" stroke-width="0.97"/>
<rect x="605.87" y="326.26" width="4.48" height="4.48" fill="none" stroke="#202020" stroke-width="0.97"/>
<rect x="616.44" y="326.26" width="4.48" height="4.48" fill="none" stroke="#202020" stroke-width="0.97"/>
<rect x="619.12" y="326.26" width="4.48" height="4.48" fill="none" stroke="#202020" stroke-width="0.97"/>
<rect x="621.80" y="326.26" width="4.48" height="4.48" fill="none" stroke="#202020" stroke-width="0.97"/>
<rect x="624.48" y="326.26" width="4.48" height="4.48" fill="none" stroke="#202020" stroke-width="0.97"/>
<rect x="627.16" y="326.26" width="4.48" height="4.48" fill="none" stroke="#202020" stroke-width="0.97"/>
<rect x="629.84" y="326.26" width="4.48" height="4.48" fill="none" stroke="#202020" stroke-width="0.97"/>
<rect x="619.54" y="308.25" width="4.48" height="4.48" fill="none" stroke="#202020" stroke-width="0.97"/>
<rect x="626.14" y="309.99" width="4.48" height="4.48" fill="none" stroke="#202020" stroke-width="0.97"/>
<line x1="615.78" y1="324.16" x2="634.98" y2="324.16" stroke="#111" stroke-width="1.0" stroke-linecap="butt" />
<line x1="620.58" y1="321.45" x2="630.18" y2="321.45" stroke="#111" stroke-width="1.0" stroke-linecap="butt" />
<line x1="620.58" y1="326.87" x2="630.18" y2="326.87" stroke="#111" stroke-width="1.0" stroke-linecap="butt" />
<line x1="625.38" y1="321.45" x2="625.38" y2="326.87" stroke="#111" stroke-width="1.0" stroke-linecap="butt" />
<rect x="647.11" y="277.44" width="4.48" height="4.48" fill="none" stroke="#202020" stroke-width="0.97"/>
<rect x="647.11" y="288.28" width="4.48" height="4.48" fill="none" stroke="#202020" stroke-width="0.97"/>
<rect x="647.11" y="306.19" width="4.48" height="4.48" fill="none" stroke="#202020" stroke-width="0.97"/>
<rect x="647.11" y="315.08" width="4.48" height="4.48" fill="none" stroke="#202020" stroke-width="0.97"/>
<rect x="647.11" y="322.35" width="4.48" height="4.48" fill="none" stroke="#202020" stroke-width="0.97"/>
<rect x="640.41" y="326.26" width="4.48" height="4.48" fill="none" stroke="#202020" stroke-width="0.97"/>
<rect x="643.91" y="326.26" width="4.48" height="4.48" fill="none" stroke="#202020" stroke-width="0.97"/>
<rect x="650.61" y="326.26" width="4.48" height="4.48" fill="none" stroke="#202020" stroke-width="0.97"/>
<line x1="639.75" y1="313.31" x2="658.95" y2="313.31" stroke="#111" stroke-width="1.0" stroke-linecap="butt" />
<line x1="644.55" y1="306.80" x2="654.15" y2="306.80" stroke="#111" stroke-width="1.0" stroke-linecap="butt" />
<line x1="644.55" y1="319.82" x2="654.15" y2="319.82" stroke="#111" stroke-width="1.0" stroke-linecap="butt" />
<line x1="649.35" y1="306.80" x2="649.35" y2="319.82" stroke="#111" stroke-width="1.0" stroke-linecap="butt" />
<rect x="671.08" y="255.74" width="4.48" height="4.48" fill="none" stroke="#202020" stroke-width="0.97"/>
<rect x="671.08" y="275.70" width="4.48" height="4.48" fill="none" stroke="#202020" stroke-width="0.97"/>
<rect x="671.08" y="292.62" width="4.48" height="4.48" fill="none" stroke="#202020" stroke-width="0.97"/>
<rect x="671.08" y="299.13" width="4.48" height="4.48" fill="none" stroke="#202020" stroke-width="0.97"/>
<rect x="671.08" y="317.25" width="4.48" height="4.48" fill="none" stroke="#202020" stroke-width="0.97"/>
<rect x="664.38" y="326.26" width="4.48" height="4.48" fill="none" stroke="#202020" stroke-width="0.97"/>
<rect x="671.08" y="326.26" width="4.48" height="4.48" fill="none" stroke="#202020" stroke-width="0.97"/>
<rect x="677.78" y="326.26" width="4.48" height="4.48" fill="none" stroke="#202020" stroke-width="0.97"/>
<line x1="663.72" y1="304.63" x2="682.92" y2="304.63" stroke="#111" stroke-width="1.0" stroke-linecap="butt" />
<line x1="668.52" y1="295.19" x2="678.12" y2="295.19" stroke="#111" stroke-width="1.0" stroke-linecap="butt" />
<line x1="668.52" y1="313.96" x2="678.12" y2="313.96" stroke="#111" stroke-width="1.0" stroke-linecap="butt" />
<line x1="673.32" y1="295.19" x2="673.32" y2="313.96" stroke="#111" stroke-width="1.0" stroke-linecap="butt" />
<line x1="109.90" y1="404.60" x2="109.90" y2="514.56" stroke="#000" stroke-width="1.32" stroke-linecap="butt" />
<line x1="109.24" y1="513.90" x2="277.70" y2="513.90" stroke="#000" stroke-width="1.32" stroke-linecap="butt" />
<line x1="106.90" y1="513.90" x2="109.90" y2="513.90" stroke="#000" stroke-width="1.25" stroke-linecap="butt" />
<text transform="rotate(0.06 105.80 517.20)" x="105.80" y="517.20" font-size="9.3" font-weight="bold" text-anchor="end" fill="#000" textLength="4.90" lengthAdjust="spacingAndGlyphs" stroke="#000" stroke-width="0.5" stroke-linejoin="round" xml:space="preserve">0</text>
<line x1="106.90" y1="477.63" x2="109.90" y2="477.63" stroke="#000" stroke-width="1.25" stroke-linecap="butt" />
<text transform="rotate(0.06 105.80 480.93)" x="105.80" y="480.93" font-size="9.3" font-weight="bold" text-anchor="end" fill="#000" textLength="14.70" lengthAdjust="spacingAndGlyphs" stroke="#000" stroke-width="0.5" stroke-linejoin="round" xml:space="preserve">100</text>
<rect x="90.75" y="479.48" width="2.15" height="2.3" fill="#fff"/>
<rect x="94.60" y="479.48" width="2.0" height="2.3" fill="#fff"/>
<line x1="106.90" y1="441.37" x2="109.90" y2="441.37" stroke="#000" stroke-width="1.25" stroke-linecap="butt" />
<text transform="rotate(0.06 105.80 444.67)" x="105.80" y="444.67" font-size="9.3" font-weight="bold" text-anchor="end" fill="#000" textLength="14.70" lengthAdjust="spacingAndGlyphs" stroke="#000" stroke-width="0.5" stroke-linejoin="round" xml:space="preserve">200</text>
<line x1="106.90" y1="405.10" x2="109.90" y2="405.10" stroke="#000" stroke-width="1.25" stroke-linecap="butt" />
<text transform="rotate(0.06 105.80 408.40)" x="105.80" y="408.40" font-size="9.3" font-weight="bold" text-anchor="end" fill="#000" textLength="14.70" lengthAdjust="spacingAndGlyphs" stroke="#000" stroke-width="0.5" stroke-linejoin="round" xml:space="preserve">300</text>
<line x1="121.90" y1="513.90" x2="121.90" y2="517.00" stroke="#000" stroke-width="1.25" stroke-linecap="butt" />
<text transform="rotate(0.06 122.35 525.80)" x="122.35" y="525.80" font-size="9.3" font-weight="bold" text-anchor="middle" fill="#000" textLength="4.90" lengthAdjust="spacingAndGlyphs" stroke="#000" stroke-width="0.5" stroke-linejoin="round" xml:space="preserve">1</text>
<rect x="119.55" y="524.35" width="2.15" height="2.3" fill="#fff"/>
<rect x="123.40" y="524.35" width="2.0" height="2.3" fill="#fff"/>
<line x1="145.98" y1="513.90" x2="145.98" y2="517.00" stroke="#000" stroke-width="1.25" stroke-linecap="butt" />
<text transform="rotate(0.06 145.98 525.80)" x="145.98" y="525.80" font-size="9.3" font-weight="bold" text-anchor="middle" fill="#000" textLength="4.90" lengthAdjust="spacingAndGlyphs" stroke="#000" stroke-width="0.5" stroke-linejoin="round" xml:space="preserve">2</text>
<line x1="170.06" y1="513.90" x2="170.06" y2="517.00" stroke="#000" stroke-width="1.25" stroke-linecap="butt" />
<text transform="rotate(0.06 170.06 525.80)" x="170.06" y="525.80" font-size="9.3" font-weight="bold" text-anchor="middle" fill="#000" textLength="4.90" lengthAdjust="spacingAndGlyphs" stroke="#000" stroke-width="0.5" stroke-linejoin="round" xml:space="preserve">3</text>
<line x1="194.14" y1="513.90" x2="194.14" y2="517.00" stroke="#000" stroke-width="1.25" stroke-linecap="butt" />
<text transform="rotate(0.06 194.14 525.80)" x="194.14" y="525.80" font-size="9.3" font-weight="bold" text-anchor="middle" fill="#000" textLength="4.90" lengthAdjust="spacingAndGlyphs" stroke="#000" stroke-width="0.5" stroke-linejoin="round" xml:space="preserve">4</text>
<line x1="218.22" y1="513.90" x2="218.22" y2="517.00" stroke="#000" stroke-width="1.25" stroke-linecap="butt" />
<text transform="rotate(0.06 218.22 525.80)" x="218.22" y="525.80" font-size="9.3" font-weight="bold" text-anchor="middle" fill="#000" textLength="4.90" lengthAdjust="spacingAndGlyphs" stroke="#000" stroke-width="0.5" stroke-linejoin="round" xml:space="preserve">5</text>
<line x1="242.30" y1="513.90" x2="242.30" y2="517.00" stroke="#000" stroke-width="1.25" stroke-linecap="butt" />
<text transform="rotate(0.06 242.30 525.80)" x="242.30" y="525.80" font-size="9.3" font-weight="bold" text-anchor="middle" fill="#000" textLength="4.90" lengthAdjust="spacingAndGlyphs" stroke="#000" stroke-width="0.5" stroke-linejoin="round" xml:space="preserve">6</text>
<line x1="266.38" y1="513.90" x2="266.38" y2="517.00" stroke="#000" stroke-width="1.25" stroke-linecap="butt" />
<text transform="rotate(0.06 266.38 525.80)" x="266.38" y="525.80" font-size="9.3" font-weight="bold" text-anchor="middle" fill="#000" textLength="4.90" lengthAdjust="spacingAndGlyphs" stroke="#000" stroke-width="0.5" stroke-linejoin="round" xml:space="preserve">7</text>
<text transform="rotate(0.06 193.60 539.90)" x="193.60" y="539.90" font-size="10.3" font-weight="bold" text-anchor="middle" fill="#000" textLength="33.50" lengthAdjust="spacingAndGlyphs" stroke="#000" stroke-width="0.3" stroke-linejoin="round" xml:space="preserve">Weeks</text>
<rect x="112.48" y="477.18" width="4.85" height="4.65" fill="#000"/>
<rect x="119.38" y="478.38" width="4.85" height="4.65" fill="#000"/>
<rect x="116.08" y="480.88" width="4.85" height="4.65" fill="#000"/>
<rect x="123.08" y="481.98" width="4.85" height="4.65" fill="#000"/>
<rect x="112.48" y="484.18" width="4.85" height="4.65" fill="#000"/>
<rect x="119.38" y="483.48" width="4.85" height="4.65" fill="#000"/>
<rect x="122.78" y="487.88" width="4.85" height="4.65" fill="#000"/>
<rect x="116.08" y="490.07" width="4.85" height="4.65" fill="#000"/>
<line x1="112.30" y1="485.40" x2="131.50" y2="485.40" stroke="#111" stroke-width="1.0" stroke-linecap="butt" />
<line x1="117.10" y1="484.00" x2="126.70" y2="484.00" stroke="#111" stroke-width="1.0" stroke-linecap="butt" />
<line x1="117.10" y1="486.80" x2="126.70" y2="486.80" stroke="#111" stroke-width="1.0" stroke-linecap="butt" />
<line x1="121.90" y1="484.00" x2="121.90" y2="486.80" stroke="#111" stroke-width="1.0" stroke-linecap="butt" />
<rect x="136.67" y="468.07" width="4.85" height="4.65" fill="#000"/>
<rect x="150.07" y="466.38" width="4.85" height="4.65" fill="#000"/>
<rect x="143.47" y="471.38" width="4.85" height="4.65" fill="#000"/>
<rect x="140.17" y="475.38" width="4.85" height="4.65" fill="#000"/>
<rect x="136.67" y="477.57" width="4.85" height="4.65" fill="#000"/>
<rect x="146.88" y="476.88" width="4.85" height="4.65" fill="#000"/>
<rect x="150.38" y="477.57" width="4.85" height="4.65" fill="#000"/>
<rect x="143.47" y="481.28" width="4.85" height="4.65" fill="#000"/>
<line x1="136.38" y1="476.70" x2="155.58" y2="476.70" stroke="#111" stroke-width="1.0" stroke-linecap="butt" />
<line x1="141.18" y1="475.00" x2="150.78" y2="475.00" stroke="#111" stroke-width="1.0" stroke-linecap="butt" />
<line x1="141.18" y1="478.40" x2="150.78" y2="478.40" stroke="#111" stroke-width="1.0" stroke-linecap="butt" />
<line x1="145.98" y1="475.00" x2="145.98" y2="478.40" stroke="#111" stroke-width="1.0" stroke-linecap="butt" />
<rect x="160.77" y="452.07" width="4.85" height="4.65" fill="#000"/>
<rect x="174.17" y="453.78" width="4.85" height="4.65" fill="#000"/>
<rect x="167.67" y="458.57" width="4.85" height="4.65" fill="#000"/>
<rect x="167.38" y="465.88" width="4.85" height="4.65" fill="#000"/>
<rect x="160.77" y="469.57" width="4.85" height="4.65" fill="#000"/>
<rect x="170.88" y="469.98" width="4.85" height="4.65" fill="#000"/>
<rect x="163.97" y="474.38" width="4.85" height="4.65" fill="#000"/>
<rect x="167.57" y="468.18" width="4.85" height="4.65" fill="#000"/>
<line x1="160.46" y1="466.30" x2="179.66" y2="466.30" stroke="#111" stroke-width="1.0" stroke-linecap="butt" />
<line x1="165.26" y1="463.40" x2="174.86" y2="463.40" stroke="#111" stroke-width="1.0" stroke-linecap="butt" />
<line x1="165.26" y1="469.30" x2="174.86" y2="469.30" stroke="#111" stroke-width="1.0" stroke-linecap="butt" />
<line x1="170.06" y1="463.40" x2="170.06" y2="469.30" stroke="#111" stroke-width="1.0" stroke-linecap="butt" />
<rect x="184.88" y="440.68" width="4.85" height="4.65" fill="#000"/>
<rect x="198.38" y="438.98" width="4.85" height="4.65" fill="#000"/>
<rect x="191.47" y="445.28" width="4.85" height="4.65" fill="#000"/>
<rect x="191.47" y="453.57" width="4.85" height="4.65" fill="#000"/>
<rect x="188.38" y="461.07" width="4.85" height="4.65" fill="#000"/>
<rect x="194.97" y="462.38" width="4.85" height="4.65" fill="#000"/>
<rect x="194.97" y="464.57" width="4.85" height="4.65" fill="#000"/>
<rect x="188.38" y="470.07" width="4.85" height="4.65" fill="#000"/>
<line x1="184.54" y1="457.20" x2="203.74" y2="457.20" stroke="#111" stroke-width="1.0" stroke-linecap="butt" />
<line x1="189.34" y1="452.60" x2="198.94" y2="452.60" stroke="#111" stroke-width="1.0" stroke-linecap="butt" />
<line x1="189.34" y1="461.60" x2="198.94" y2="461.60" stroke="#111" stroke-width="1.0" stroke-linecap="butt" />
<line x1="194.14" y1="452.60" x2="194.14" y2="461.60" stroke="#111" stroke-width="1.0" stroke-linecap="butt" />
<rect x="209.07" y="431.48" width="4.85" height="4.65" fill="#000"/>
<rect x="222.38" y="431.48" width="4.85" height="4.65" fill="#000"/>
<rect x="215.67" y="438.38" width="4.85" height="4.65" fill="#000"/>
<rect x="212.47" y="449.07" width="4.85" height="4.65" fill="#000"/>
<rect x="218.97" y="453.98" width="4.85" height="4.65" fill="#000"/>
<rect x="209.07" y="458.88" width="4.85" height="4.65" fill="#000"/>
<rect x="222.38" y="463.28" width="4.85" height="4.65" fill="#000"/>
<rect x="215.67" y="465.18" width="4.85" height="4.65" fill="#000"/>
<line x1="208.62" y1="451.40" x2="227.82" y2="451.40" stroke="#111" stroke-width="1.0" stroke-linecap="butt" />
<line x1="213.42" y1="446.30" x2="223.02" y2="446.30" stroke="#111" stroke-width="1.0" stroke-linecap="butt" />
<line x1="213.42" y1="456.30" x2="223.02" y2="456.30" stroke="#111" stroke-width="1.0" stroke-linecap="butt" />
<line x1="218.22" y1="446.30" x2="218.22" y2="456.30" stroke="#111" stroke-width="1.0" stroke-linecap="butt" />
<rect x="236.57" y="422.28" width="4.85" height="4.65" fill="#000"/>
<rect x="243.17" y="424.07" width="4.85" height="4.65" fill="#000"/>
<rect x="239.77" y="439.57" width="4.85" height="4.65" fill="#000"/>
<rect x="236.88" y="441.57" width="4.85" height="4.65" fill="#000"/>
<rect x="243.17" y="448.28" width="4.85" height="4.65" fill="#000"/>
<rect x="233.17" y="456.68" width="4.85" height="4.65" fill="#000"/>
<rect x="246.38" y="459.88" width="4.85" height="4.65" fill="#000"/>
<rect x="239.77" y="461.78" width="4.85" height="4.65" fill="#000"/>
<line x1="232.70" y1="446.30" x2="251.90" y2="446.30" stroke="#111" stroke-width="1.0" stroke-linecap="butt" />
<line x1="237.50" y1="441.10" x2="247.10" y2="441.10" stroke="#111" stroke-width="1.0" stroke-linecap="butt" />
<line x1="237.50" y1="452.10" x2="247.10" y2="452.10" stroke="#111" stroke-width="1.0" stroke-linecap="butt" />
<line x1="242.30" y1="441.10" x2="242.30" y2="452.10" stroke="#111" stroke-width="1.0" stroke-linecap="butt" />
<rect x="263.88" y="420.38" width="4.85" height="4.65" fill="#000"/>
<rect x="263.88" y="431.48" width="4.85" height="4.65" fill="#000"/>
<rect x="263.88" y="442.07" width="4.85" height="4.65" fill="#000"/>
<rect x="260.27" y="445.98" width="4.85" height="4.65" fill="#000"/>
<rect x="267.27" y="451.57" width="4.85" height="4.65" fill="#000"/>
<rect x="256.97" y="454.48" width="4.85" height="4.65" fill="#000"/>
<rect x="270.57" y="458.88" width="4.85" height="4.65" fill="#000"/>
<rect x="263.88" y="459.88" width="4.85" height="4.65" fill="#000"/>
<line x1="256.78" y1="448.00" x2="275.98" y2="448.00" stroke="#111" stroke-width="1.0" stroke-linecap="butt" />
<line x1="261.58" y1="443.20" x2="271.18" y2="443.20" stroke="#111" stroke-width="1.0" stroke-linecap="butt" />
<line x1="261.58" y1="452.80" x2="271.18" y2="452.80" stroke="#111" stroke-width="1.0" stroke-linecap="butt" />
<line x1="266.38" y1="443.20" x2="266.38" y2="452.80" stroke="#111" stroke-width="1.0" stroke-linecap="butt" />
<line x1="312.20" y1="404.37" x2="312.20" y2="514.16" stroke="#000" stroke-width="1.32" stroke-linecap="butt" />
<line x1="311.54" y1="513.50" x2="480.00" y2="513.50" stroke="#000" stroke-width="1.32" stroke-linecap="butt" />
<line x1="309.20" y1="513.50" x2="312.20" y2="513.50" stroke="#000" stroke-width="1.25" stroke-linecap="butt" />
<text transform="rotate(0.06 308.10 517.23)" x="308.10" y="517.23" font-size="9.3" font-weight="bold" text-anchor="end" fill="#000" textLength="4.90" lengthAdjust="spacingAndGlyphs" stroke="#000" stroke-width="0.5" stroke-linejoin="round" xml:space="preserve">0</text>
<line x1="309.20" y1="486.34" x2="312.20" y2="486.34" stroke="#000" stroke-width="1.25" stroke-linecap="butt" />
<text transform="rotate(0.06 308.60 490.07)" x="308.60" y="490.07" font-size="9.3" font-weight="bold" text-anchor="end" fill="#000" textLength="4.90" lengthAdjust="spacingAndGlyphs" stroke="#000" stroke-width="0.5" stroke-linejoin="round" xml:space="preserve">1</text>
<rect x="303.35" y="488.62" width="2.15" height="2.3" fill="#fff"/>
<rect x="307.20" y="488.62" width="2.0" height="2.3" fill="#fff"/>
<line x1="309.20" y1="459.19" x2="312.20" y2="459.19" stroke="#000" stroke-width="1.25" stroke-linecap="butt" />
<text transform="rotate(0.06 308.10 462.92)" x="308.10" y="462.92" font-size="9.3" font-weight="bold" text-anchor="end" fill="#000" textLength="4.90" lengthAdjust="spacingAndGlyphs" stroke="#000" stroke-width="0.5" stroke-linejoin="round" xml:space="preserve">2</text>
<line x1="309.20" y1="432.03" x2="312.20" y2="432.03" stroke="#000" stroke-width="1.25" stroke-linecap="butt" />
<text transform="rotate(0.06 308.10 435.76)" x="308.10" y="435.76" font-size="9.3" font-weight="bold" text-anchor="end" fill="#000" textLength="4.90" lengthAdjust="spacingAndGlyphs" stroke="#000" stroke-width="0.5" stroke-linejoin="round" xml:space="preserve">3</text>
<line x1="309.20" y1="404.87" x2="312.20" y2="404.87" stroke="#000" stroke-width="1.25" stroke-linecap="butt" />
<text transform="rotate(0.06 308.10 408.60)" x="308.10" y="408.60" font-size="9.3" font-weight="bold" text-anchor="end" fill="#000" textLength="4.90" lengthAdjust="spacingAndGlyphs" stroke="#000" stroke-width="0.5" stroke-linejoin="round" xml:space="preserve">4</text>
<line x1="324.20" y1="513.50" x2="324.20" y2="516.60" stroke="#000" stroke-width="1.25" stroke-linecap="butt" />
<text transform="rotate(0.06 324.65 525.40)" x="324.65" y="525.40" font-size="9.3" font-weight="bold" text-anchor="middle" fill="#000" textLength="4.90" lengthAdjust="spacingAndGlyphs" stroke="#000" stroke-width="0.5" stroke-linejoin="round" xml:space="preserve">1</text>
<rect x="321.85" y="523.95" width="2.15" height="2.3" fill="#fff"/>
<rect x="325.70" y="523.95" width="2.0" height="2.3" fill="#fff"/>
<line x1="348.25" y1="513.50" x2="348.25" y2="516.60" stroke="#000" stroke-width="1.25" stroke-linecap="butt" />
<text transform="rotate(0.06 348.25 525.40)" x="348.25" y="525.40" font-size="9.3" font-weight="bold" text-anchor="middle" fill="#000" textLength="4.90" lengthAdjust="spacingAndGlyphs" stroke="#000" stroke-width="0.5" stroke-linejoin="round" xml:space="preserve">2</text>
<line x1="372.30" y1="513.50" x2="372.30" y2="516.60" stroke="#000" stroke-width="1.25" stroke-linecap="butt" />
<text transform="rotate(0.06 372.30 525.40)" x="372.30" y="525.40" font-size="9.3" font-weight="bold" text-anchor="middle" fill="#000" textLength="4.90" lengthAdjust="spacingAndGlyphs" stroke="#000" stroke-width="0.5" stroke-linejoin="round" xml:space="preserve">3</text>
<line x1="396.35" y1="513.50" x2="396.35" y2="516.60" stroke="#000" stroke-width="1.25" stroke-linecap="butt" />
<text transform="rotate(0.06 396.35 525.40)" x="396.35" y="525.40" font-size="9.3" font-weight="bold" text-anchor="middle" fill="#000" textLength="4.90" lengthAdjust="spacingAndGlyphs" stroke="#000" stroke-width="0.5" stroke-linejoin="round" xml:space="preserve">4</text>
<line x1="420.40" y1="513.50" x2="420.40" y2="516.60" stroke="#000" stroke-width="1.25" stroke-linecap="butt" />
<text transform="rotate(0.06 420.40 525.40)" x="420.40" y="525.40" font-size="9.3" font-weight="bold" text-anchor="middle" fill="#000" textLength="4.90" lengthAdjust="spacingAndGlyphs" stroke="#000" stroke-width="0.5" stroke-linejoin="round" xml:space="preserve">5</text>
<line x1="444.45" y1="513.50" x2="444.45" y2="516.60" stroke="#000" stroke-width="1.25" stroke-linecap="butt" />
<text transform="rotate(0.06 444.45 525.40)" x="444.45" y="525.40" font-size="9.3" font-weight="bold" text-anchor="middle" fill="#000" textLength="4.90" lengthAdjust="spacingAndGlyphs" stroke="#000" stroke-width="0.5" stroke-linejoin="round" xml:space="preserve">6</text>
<line x1="468.50" y1="513.50" x2="468.50" y2="516.60" stroke="#000" stroke-width="1.25" stroke-linecap="butt" />
<text transform="rotate(0.06 468.50 525.40)" x="468.50" y="525.40" font-size="9.3" font-weight="bold" text-anchor="middle" fill="#000" textLength="4.90" lengthAdjust="spacingAndGlyphs" stroke="#000" stroke-width="0.5" stroke-linejoin="round" xml:space="preserve">7</text>
<text transform="rotate(0.06 395.60 539.90)" x="395.60" y="539.90" font-size="10.3" font-weight="bold" text-anchor="middle" fill="#000" textLength="33.50" lengthAdjust="spacingAndGlyphs" stroke="#000" stroke-width="0.3" stroke-linejoin="round" xml:space="preserve">Weeks</text>
<rect x="321.77" y="491.21" width="4.85" height="4.65" fill="#000"/>
<rect x="315.07" y="502.59" width="4.85" height="4.65" fill="#000"/>
<rect x="328.47" y="502.59" width="4.85" height="4.65" fill="#000"/>
<rect x="321.77" y="504.66" width="4.85" height="4.65" fill="#000"/>
<rect x="315.17" y="511.18" width="4.85" height="4.65" fill="#000"/>
<rect x="318.47" y="511.18" width="4.85" height="4.65" fill="#000"/>
<rect x="321.77" y="511.18" width="4.85" height="4.65" fill="#000"/>
<rect x="325.07" y="511.18" width="4.85" height="4.65" fill="#000"/>
<line x1="314.60" y1="508.34" x2="333.80" y2="508.34" stroke="#111" stroke-width="1.0" stroke-linecap="butt" />
<line x1="319.40" y1="505.08" x2="329.00" y2="505.08" stroke="#111" stroke-width="1.0" stroke-linecap="butt" />
<line x1="319.40" y1="511.06" x2="329.00" y2="511.06" stroke="#111" stroke-width="1.0" stroke-linecap="butt" />
<line x1="324.20" y1="505.08" x2="324.20" y2="511.06" stroke="#111" stroke-width="1.0" stroke-linecap="butt" />
<rect x="339.02" y="467.99" width="4.85" height="4.65" fill="#000"/>
<rect x="352.43" y="467.99" width="4.85" height="4.65" fill="#000"/>
<rect x="345.82" y="470.98" width="4.85" height="4.65" fill="#000"/>
<rect x="342.52" y="488.91" width="4.85" height="4.65" fill="#000"/>
<rect x="349.22" y="490.81" width="4.85" height="4.65" fill="#000"/>
<rect x="342.52" y="495.42" width="4.85" height="4.65" fill="#000"/>
<rect x="349.22" y="495.15" width="4.85" height="4.65" fill="#000"/>
<rect x="345.82" y="502.21" width="4.85" height="4.65" fill="#000"/>
<line x1="338.65" y1="487.16" x2="357.85" y2="487.16" stroke="#111" stroke-width="1.0" stroke-linecap="butt" />
<line x1="343.45" y1="482.27" x2="353.05" y2="482.27" stroke="#111" stroke-width="1.0" stroke-linecap="butt" />
<line x1="343.45" y1="492.05" x2="353.05" y2="492.05" stroke="#111" stroke-width="1.0" stroke-linecap="butt" />
<line x1="348.25" y1="482.27" x2="348.25" y2="492.05" stroke="#111" stroke-width="1.0" stroke-linecap="butt" />
<rect x="366.57" y="456.86" width="4.85" height="4.65" fill="#000"/>
<rect x="373.27" y="456.86" width="4.85" height="4.65" fill="#000"/>
<rect x="366.57" y="470.98" width="4.85" height="4.65" fill="#000"/>
<rect x="373.27" y="470.98" width="4.85" height="4.65" fill="#000"/>
<rect x="369.88" y="484.56" width="4.85" height="4.65" fill="#000"/>
<rect x="369.88" y="491.35" width="4.85" height="4.65" fill="#000"/>
<rect x="366.57" y="497.60" width="4.85" height="4.65" fill="#000"/>
<rect x="373.27" y="497.60" width="4.85" height="4.65" fill="#000"/>
<line x1="362.70" y1="480.37" x2="381.90" y2="480.37" stroke="#111" stroke-width="1.0" stroke-linecap="butt" />
<line x1="367.50" y1="474.66" x2="377.10" y2="474.66" stroke="#111" stroke-width="1.0" stroke-linecap="butt" />
<line x1="367.50" y1="486.34" x2="377.10" y2="486.34" stroke="#111" stroke-width="1.0" stroke-linecap="butt" />
<line x1="372.30" y1="474.66" x2="372.30" y2="486.34" stroke="#111" stroke-width="1.0" stroke-linecap="butt" />
<rect x="393.82" y="452.79" width="4.85" height="4.65" fill="#000"/>
<rect x="386.93" y="457.13" width="4.85" height="4.65" fill="#000"/>
<rect x="393.82" y="461.75" width="4.85" height="4.65" fill="#000"/>
<rect x="400.32" y="461.75" width="4.85" height="4.65" fill="#000"/>
<rect x="386.93" y="466.37" width="4.85" height="4.65" fill="#000"/>
<rect x="400.32" y="466.09" width="4.85" height="4.65" fill="#000"/>
<rect x="393.82" y="470.71" width="4.85" height="4.65" fill="#000"/>
<rect x="393.82" y="480.22" width="4.85" height="4.65" fill="#000"/>
<line x1="386.75" y1="467.06" x2="405.95" y2="467.06" stroke="#111" stroke-width="1.0" stroke-linecap="butt" />
<line x1="391.55" y1="464.07" x2="401.15" y2="464.07" stroke="#111" stroke-width="1.0" stroke-linecap="butt" />
<line x1="391.55" y1="470.05" x2="401.15" y2="470.05" stroke="#111" stroke-width="1.0" stroke-linecap="butt" />
<line x1="396.35" y1="464.07" x2="396.35" y2="470.05" stroke="#111" stroke-width="1.0" stroke-linecap="butt" />
<rect x="417.57" y="439.21" width="4.85" height="4.65" fill="#000"/>
<rect x="410.97" y="443.82" width="4.85" height="4.65" fill="#000"/>
<rect x="424.47" y="443.82" width="4.85" height="4.65" fill="#000"/>
<rect x="417.57" y="448.44" width="4.85" height="4.65" fill="#000"/>
<rect x="410.97" y="457.13" width="4.85" height="4.65" fill="#000"/>
<rect x="417.57" y="457.13" width="4.85" height="4.65" fill="#000"/>
<rect x="424.47" y="457.13" width="4.85" height="4.65" fill="#000"/>
<rect x="417.57" y="466.37" width="4.85" height="4.65" fill="#000"/>
<line x1="410.80" y1="454.03" x2="430.00" y2="454.03" stroke="#111" stroke-width="1.0" stroke-linecap="butt" />
<line x1="415.60" y1="450.22" x2="425.20" y2="450.22" stroke="#111" stroke-width="1.0" stroke-linecap="butt" />
<line x1="415.60" y1="457.56" x2="425.20" y2="457.56" stroke="#111" stroke-width="1.0" stroke-linecap="butt" />
<line x1="420.40" y1="450.22" x2="420.40" y2="457.56" stroke="#111" stroke-width="1.0" stroke-linecap="butt" />
<rect x="438.22" y="434.59" width="4.85" height="4.65" fill="#000"/>
<rect x="445.02" y="439.21" width="4.85" height="4.65" fill="#000"/>
<rect x="434.72" y="443.82" width="4.85" height="4.65" fill="#000"/>
<rect x="448.22" y="443.82" width="4.85" height="4.65" fill="#000"/>
<rect x="441.62" y="448.17" width="4.85" height="4.65" fill="#000"/>
<rect x="438.22" y="456.86" width="4.85" height="4.65" fill="#000"/>
<rect x="445.02" y="461.75" width="4.85" height="4.65" fill="#000"/>
<rect x="441.62" y="470.71" width="4.85" height="4.65" fill="#000"/>
<line x1="434.85" y1="452.40" x2="454.05" y2="452.40" stroke="#111" stroke-width="1.0" stroke-linecap="butt" />
<line x1="439.65" y1="447.78" x2="449.25" y2="447.78" stroke="#111" stroke-width="1.0" stroke-linecap="butt" />
<line x1="439.65" y1="456.47" x2="449.25" y2="456.47" stroke="#111" stroke-width="1.0" stroke-linecap="butt" />
<line x1="444.45" y1="447.78" x2="444.45" y2="456.47" stroke="#111" stroke-width="1.0" stroke-linecap="butt" />
<rect x="465.68" y="430.25" width="4.85" height="4.65" fill="#000"/>
<rect x="462.07" y="443.82" width="4.85" height="4.65" fill="#000"/>
<rect x="468.88" y="448.44" width="4.85" height="4.65" fill="#000"/>
<rect x="468.88" y="452.24" width="4.85" height="4.65" fill="#000"/>
<rect x="462.38" y="456.86" width="4.85" height="4.65" fill="#000"/>
<rect x="462.38" y="461.48" width="4.85" height="4.65" fill="#000"/>
<rect x="468.88" y="466.37" width="4.85" height="4.65" fill="#000"/>
<rect x="465.68" y="475.33" width="4.85" height="4.65" fill="#000"/>
<line x1="458.90" y1="456.74" x2="478.10" y2="456.74" stroke="#111" stroke-width="1.0" stroke-linecap="butt" />
<line x1="463.70" y1="451.58" x2="473.30" y2="451.58" stroke="#111" stroke-width="1.0" stroke-linecap="butt" />
<line x1="463.70" y1="461.63" x2="473.30" y2="461.63" stroke="#111" stroke-width="1.0" stroke-linecap="butt" />
<line x1="468.50" y1="451.58" x2="468.50" y2="461.63" stroke="#111" stroke-width="1.0" stroke-linecap="butt" />
<line x1="515.75" y1="405.15" x2="515.75" y2="514.96" stroke="#000" stroke-width="1.32" stroke-linecap="butt" />
<line x1="515.09" y1="514.30" x2="686.00" y2="514.30" stroke="#000" stroke-width="1.32" stroke-linecap="butt" />
<line x1="512.75" y1="514.30" x2="515.75" y2="514.30" stroke="#000" stroke-width="1.25" stroke-linecap="butt" />
<text transform="rotate(0.06 511.65 517.80)" x="511.65" y="517.80" font-size="9.3" font-weight="bold" text-anchor="end" fill="#000" textLength="4.90" lengthAdjust="spacingAndGlyphs" stroke="#000" stroke-width="0.5" stroke-linejoin="round" xml:space="preserve">0</text>
<line x1="512.75" y1="492.57" x2="515.75" y2="492.57" stroke="#000" stroke-width="1.25" stroke-linecap="butt" />
<text transform="rotate(0.06 511.65 496.07)" x="511.65" y="496.07" font-size="9.3" font-weight="bold" text-anchor="end" fill="#000" textLength="4.90" lengthAdjust="spacingAndGlyphs" stroke="#000" stroke-width="0.5" stroke-linejoin="round" xml:space="preserve">2</text>
<line x1="512.75" y1="470.84" x2="515.75" y2="470.84" stroke="#000" stroke-width="1.25" stroke-linecap="butt" />
<text transform="rotate(0.06 511.65 474.34)" x="511.65" y="474.34" font-size="9.3" font-weight="bold" text-anchor="end" fill="#000" textLength="4.90" lengthAdjust="spacingAndGlyphs" stroke="#000" stroke-width="0.5" stroke-linejoin="round" xml:space="preserve">4</text>
<line x1="512.75" y1="449.11" x2="515.75" y2="449.11" stroke="#000" stroke-width="1.25" stroke-linecap="butt" />
<text transform="rotate(0.06 511.65 452.61)" x="511.65" y="452.61" font-size="9.3" font-weight="bold" text-anchor="end" fill="#000" textLength="4.90" lengthAdjust="spacingAndGlyphs" stroke="#000" stroke-width="0.5" stroke-linejoin="round" xml:space="preserve">6</text>
<line x1="512.75" y1="427.38" x2="515.75" y2="427.38" stroke="#000" stroke-width="1.25" stroke-linecap="butt" />
<text transform="rotate(0.06 511.65 430.88)" x="511.65" y="430.88" font-size="9.3" font-weight="bold" text-anchor="end" fill="#000" textLength="4.90" lengthAdjust="spacingAndGlyphs" stroke="#000" stroke-width="0.5" stroke-linejoin="round" xml:space="preserve">8</text>
<line x1="512.75" y1="405.65" x2="515.75" y2="405.65" stroke="#000" stroke-width="1.25" stroke-linecap="butt" />
<text transform="rotate(0.06 511.65 409.15)" x="511.65" y="409.15" font-size="9.3" font-weight="bold" text-anchor="end" fill="#000" textLength="9.80" lengthAdjust="spacingAndGlyphs" stroke="#000" stroke-width="0.5" stroke-linejoin="round" xml:space="preserve">10</text>
<rect x="501.50" y="407.70" width="2.15" height="2.3" fill="#fff"/>
<rect x="505.35" y="407.70" width="2.0" height="2.3" fill="#fff"/>
<line x1="527.80" y1="514.30" x2="527.80" y2="517.40" stroke="#000" stroke-width="1.25" stroke-linecap="butt" />
<text transform="rotate(0.06 528.25 526.00)" x="528.25" y="526.00" font-size="9.3" font-weight="bold" text-anchor="middle" fill="#000" textLength="4.90" lengthAdjust="spacingAndGlyphs" stroke="#000" stroke-width="0.5" stroke-linejoin="round" xml:space="preserve">1</text>
<rect x="525.45" y="524.55" width="2.15" height="2.3" fill="#fff"/>
<rect x="529.30" y="524.55" width="2.0" height="2.3" fill="#fff"/>
<line x1="551.75" y1="514.30" x2="551.75" y2="517.40" stroke="#000" stroke-width="1.25" stroke-linecap="butt" />
<text transform="rotate(0.06 551.75 526.00)" x="551.75" y="526.00" font-size="9.3" font-weight="bold" text-anchor="middle" fill="#000" textLength="4.90" lengthAdjust="spacingAndGlyphs" stroke="#000" stroke-width="0.5" stroke-linejoin="round" xml:space="preserve">2</text>
<line x1="575.70" y1="514.30" x2="575.70" y2="517.40" stroke="#000" stroke-width="1.25" stroke-linecap="butt" />
<text transform="rotate(0.06 575.70 526.00)" x="575.70" y="526.00" font-size="9.3" font-weight="bold" text-anchor="middle" fill="#000" textLength="4.90" lengthAdjust="spacingAndGlyphs" stroke="#000" stroke-width="0.5" stroke-linejoin="round" xml:space="preserve">3</text>
<line x1="599.65" y1="514.30" x2="599.65" y2="517.40" stroke="#000" stroke-width="1.25" stroke-linecap="butt" />
<text transform="rotate(0.06 599.65 526.00)" x="599.65" y="526.00" font-size="9.3" font-weight="bold" text-anchor="middle" fill="#000" textLength="4.90" lengthAdjust="spacingAndGlyphs" stroke="#000" stroke-width="0.5" stroke-linejoin="round" xml:space="preserve">4</text>
<line x1="623.60" y1="514.30" x2="623.60" y2="517.40" stroke="#000" stroke-width="1.25" stroke-linecap="butt" />
<text transform="rotate(0.06 623.60 526.00)" x="623.60" y="526.00" font-size="9.3" font-weight="bold" text-anchor="middle" fill="#000" textLength="4.90" lengthAdjust="spacingAndGlyphs" stroke="#000" stroke-width="0.5" stroke-linejoin="round" xml:space="preserve">5</text>
<line x1="647.55" y1="514.30" x2="647.55" y2="517.40" stroke="#000" stroke-width="1.25" stroke-linecap="butt" />
<text transform="rotate(0.06 647.55 526.00)" x="647.55" y="526.00" font-size="9.3" font-weight="bold" text-anchor="middle" fill="#000" textLength="4.90" lengthAdjust="spacingAndGlyphs" stroke="#000" stroke-width="0.5" stroke-linejoin="round" xml:space="preserve">6</text>
<line x1="671.50" y1="514.30" x2="671.50" y2="517.40" stroke="#000" stroke-width="1.25" stroke-linecap="butt" />
<text transform="rotate(0.06 671.50 526.00)" x="671.50" y="526.00" font-size="9.3" font-weight="bold" text-anchor="middle" fill="#000" textLength="4.90" lengthAdjust="spacingAndGlyphs" stroke="#000" stroke-width="0.5" stroke-linejoin="round" xml:space="preserve">7</text>
<text transform="rotate(0.06 599.00 539.90)" x="599.00" y="539.90" font-size="10.3" font-weight="bold" text-anchor="middle" fill="#000" textLength="33.50" lengthAdjust="spacingAndGlyphs" stroke="#000" stroke-width="0.3" stroke-linejoin="round" xml:space="preserve">Weeks</text>
<rect x="518.58" y="511.97" width="4.85" height="4.65" fill="#000"/>
<rect x="520.52" y="511.97" width="4.85" height="4.65" fill="#000"/>
<rect x="522.46" y="511.97" width="4.85" height="4.65" fill="#000"/>
<rect x="524.40" y="511.97" width="4.85" height="4.65" fill="#000"/>
<rect x="526.35" y="511.97" width="4.85" height="4.65" fill="#000"/>
<rect x="528.29" y="511.97" width="4.85" height="4.65" fill="#000"/>
<rect x="530.23" y="511.97" width="4.85" height="4.65" fill="#000"/>
<rect x="532.17" y="511.97" width="4.85" height="4.65" fill="#000"/>
<rect x="542.53" y="511.97" width="4.85" height="4.65" fill="#000"/>
<rect x="544.47" y="511.97" width="4.85" height="4.65" fill="#000"/>
<rect x="546.41" y="511.97" width="4.85" height="4.65" fill="#000"/>
<rect x="548.35" y="511.97" width="4.85" height="4.65" fill="#000"/>
<rect x="550.30" y="511.97" width="4.85" height="4.65" fill="#000"/>
<rect x="552.24" y="511.97" width="4.85" height="4.65" fill="#000"/>
<rect x="554.18" y="511.97" width="4.85" height="4.65" fill="#000"/>
<rect x="556.12" y="511.97" width="4.85" height="4.65" fill="#000"/>
<rect x="566.48" y="511.97" width="4.85" height="4.65" fill="#000"/>
<rect x="568.42" y="511.97" width="4.85" height="4.65" fill="#000"/>
<rect x="570.36" y="511.97" width="4.85" height="4.65" fill="#000"/>
<rect x="572.30" y="511.97" width="4.85" height="4.65" fill="#000"/>
<rect x="574.25" y="511.97" width="4.85" height="4.65" fill="#000"/>
<rect x="576.19" y="511.97" width="4.85" height="4.65" fill="#000"/>
<rect x="578.13" y="511.97" width="4.85" height="4.65" fill="#000"/>
<rect x="580.07" y="511.97" width="4.85" height="4.65" fill="#000"/>
<rect x="590.62" y="511.97" width="4.85" height="4.65" fill="#000"/>
<rect x="592.83" y="511.97" width="4.85" height="4.65" fill="#000"/>
<rect x="595.02" y="511.97" width="4.85" height="4.65" fill="#000"/>
<rect x="597.23" y="511.97" width="4.85" height="4.65" fill="#000"/>
<rect x="599.43" y="511.97" width="4.85" height="4.65" fill="#000"/>
<rect x="601.62" y="511.97" width="4.85" height="4.65" fill="#000"/>
<rect x="603.83" y="511.97" width="4.85" height="4.65" fill="#000"/>
<rect x="595.62" y="507.79" width="4.85" height="4.65" fill="#000"/>
<rect x="614.57" y="511.97" width="4.85" height="4.65" fill="#000"/>
<rect x="617.21" y="511.97" width="4.85" height="4.65" fill="#000"/>
<rect x="619.85" y="511.97" width="4.85" height="4.65" fill="#000"/>
<rect x="622.50" y="511.97" width="4.85" height="4.65" fill="#000"/>
<rect x="625.13" y="511.97" width="4.85" height="4.65" fill="#000"/>
<rect x="627.77" y="511.97" width="4.85" height="4.65" fill="#000"/>
<rect x="617.67" y="500.84" width="4.85" height="4.65" fill="#000"/>
<rect x="624.67" y="504.53" width="4.85" height="4.65" fill="#000"/>
<line x1="614.00" y1="512.61" x2="633.20" y2="512.61" stroke="#111" stroke-width="1.0" stroke-linecap="butt" />
<line x1="618.80" y1="510.11" x2="628.40" y2="510.11" stroke="#111" stroke-width="1.0" stroke-linecap="butt" />
<line x1="618.80" y1="512.94" x2="628.40" y2="512.94" stroke="#111" stroke-width="1.0" stroke-linecap="butt" />
<line x1="623.60" y1="510.11" x2="623.60" y2="512.94" stroke="#111" stroke-width="1.0" stroke-linecap="butt" />
<rect x="645.12" y="468.35" width="4.85" height="4.65" fill="#000"/>
<rect x="645.12" y="481.06" width="4.85" height="4.65" fill="#000"/>
<rect x="651.92" y="508.01" width="4.85" height="4.65" fill="#000"/>
<rect x="638.73" y="511.97" width="4.85" height="4.65" fill="#000"/>
<rect x="641.73" y="511.97" width="4.85" height="4.65" fill="#000"/>
<rect x="645.12" y="511.97" width="4.85" height="4.65" fill="#000"/>
<rect x="647.92" y="511.97" width="4.85" height="4.65" fill="#000"/>
<rect x="643.62" y="511.97" width="4.85" height="4.65" fill="#000"/>
<line x1="637.95" y1="504.14" x2="657.15" y2="504.14" stroke="#111" stroke-width="1.0" stroke-linecap="butt" />
<line x1="642.75" y1="498.27" x2="652.35" y2="498.27" stroke="#111" stroke-width="1.0" stroke-linecap="butt" />
<line x1="642.75" y1="510.22" x2="652.35" y2="510.22" stroke="#111" stroke-width="1.0" stroke-linecap="butt" />
<line x1="647.55" y1="498.27" x2="647.55" y2="510.22" stroke="#111" stroke-width="1.0" stroke-linecap="butt" />
<rect x="669.08" y="419.57" width="4.85" height="4.65" fill="#000"/>
<rect x="669.08" y="468.35" width="4.85" height="4.65" fill="#000"/>
<rect x="669.08" y="504.53" width="4.85" height="4.65" fill="#000"/>
<rect x="665.68" y="507.46" width="4.85" height="4.65" fill="#000"/>
<rect x="662.38" y="511.97" width="4.85" height="4.65" fill="#000"/>
<rect x="669.68" y="511.97" width="4.85" height="4.65" fill="#000"/>
<rect x="672.68" y="511.97" width="4.85" height="4.65" fill="#000"/>
<rect x="675.98" y="511.97" width="4.85" height="4.65" fill="#000"/>
<line x1="661.90" y1="495.66" x2="681.10" y2="495.66" stroke="#111" stroke-width="1.0" stroke-linecap="butt" />
<line x1="666.70" y1="484.15" x2="676.30" y2="484.15" stroke="#111" stroke-width="1.0" stroke-linecap="butt" />
<line x1="666.70" y1="507.40" x2="676.30" y2="507.40" stroke="#111" stroke-width="1.0" stroke-linecap="butt" />
<line x1="671.50" y1="484.15" x2="671.50" y2="507.40" stroke="#111" stroke-width="1.0" stroke-linecap="butt" />
</svg>
</body></html>
